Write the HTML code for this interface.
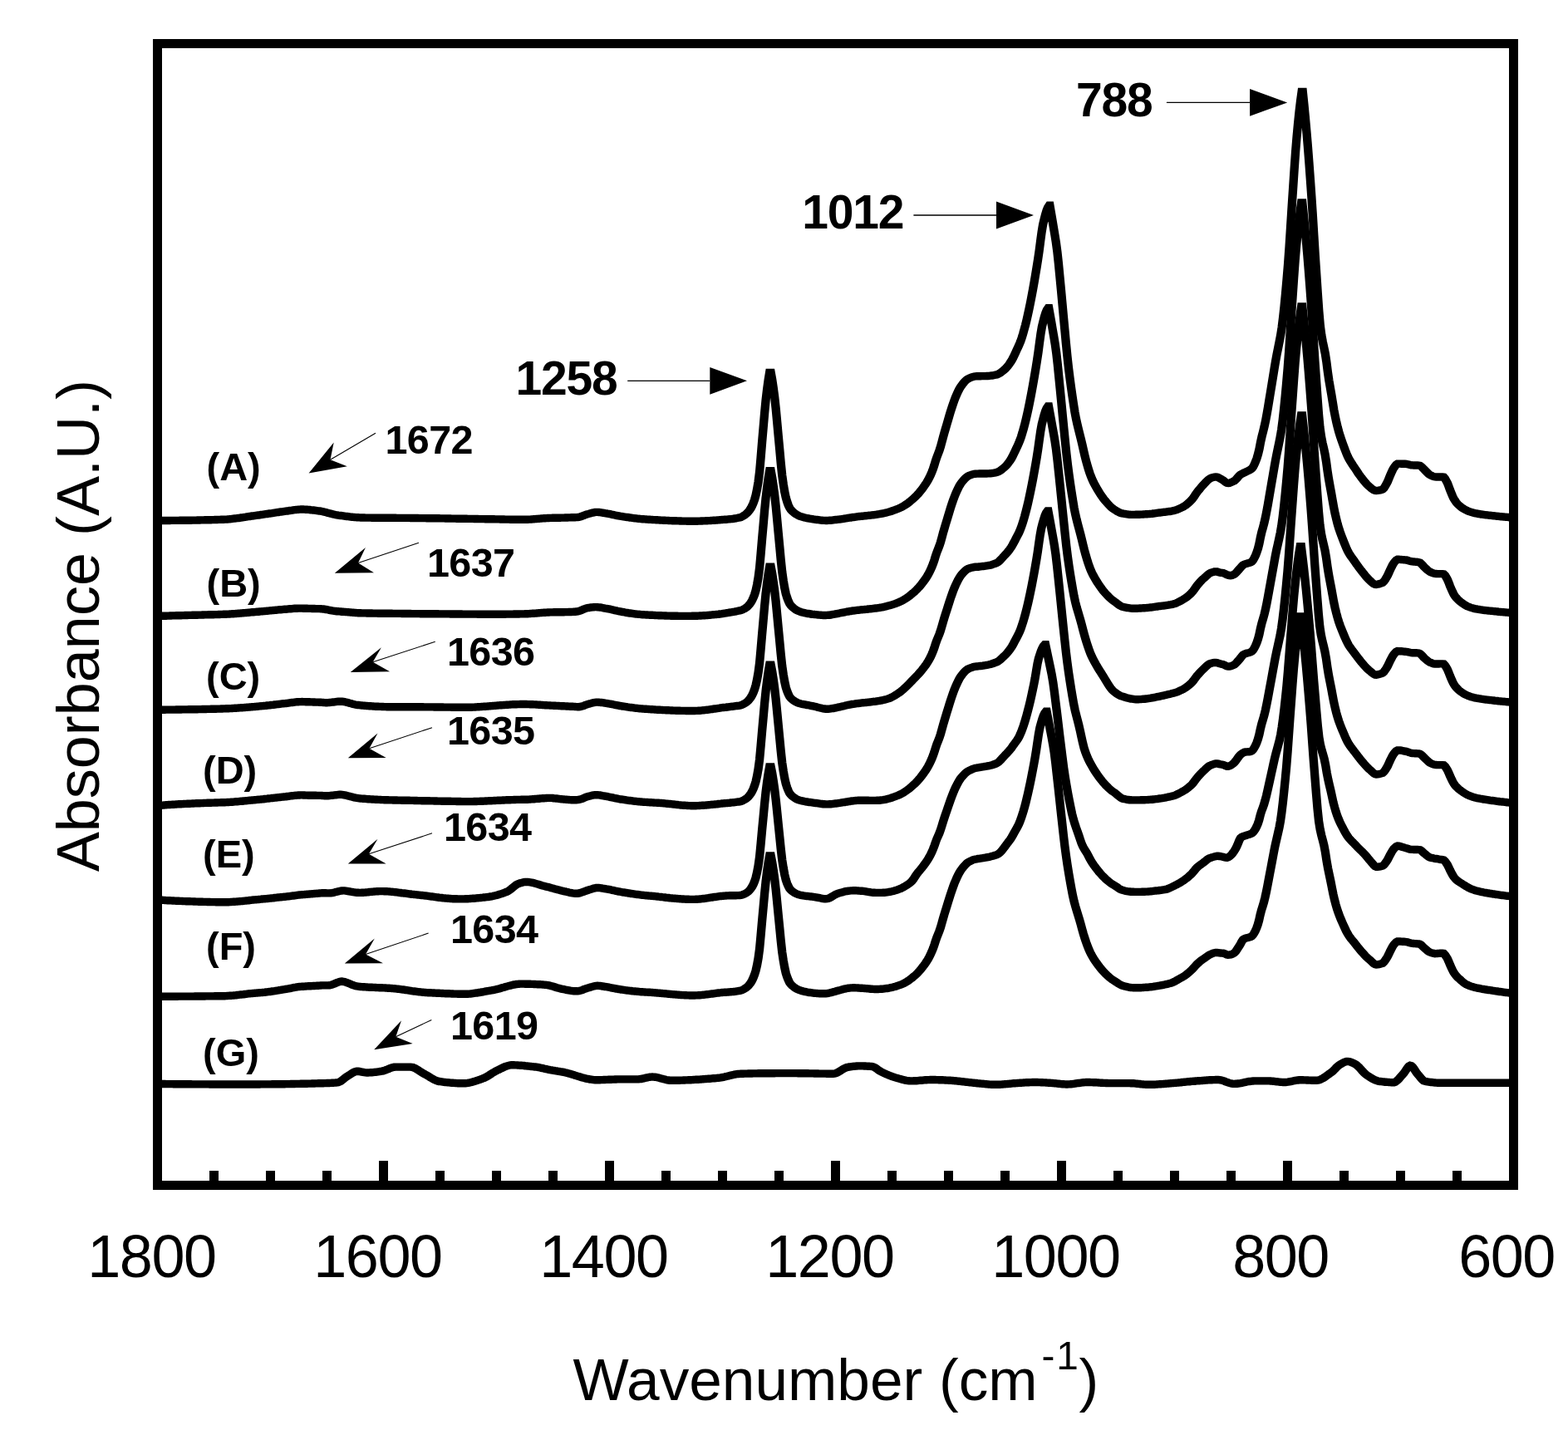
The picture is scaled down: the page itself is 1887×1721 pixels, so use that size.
<!DOCTYPE html>
<html><head><meta charset="utf-8"><title>FTIR spectra</title>
<style>
html,body{margin:0;padding:0;background:#fff;}
body{width:1887px;height:1721px;overflow:hidden;}
svg{display:block;}
text{font-family:"Liberation Sans",Arial,Helvetica,sans-serif;fill:#000;}
.b{font-weight:bold;}
</style></head><body>
<svg width="1887" height="1721" viewBox="0 0 1887 1721">
<rect x="0" y="0" width="1887" height="1721" fill="#fff"/>
<g transform="scale(1.1,1)" fill="none" stroke="#000" stroke-width="9.4" stroke-linejoin="miter" stroke-miterlimit="2" stroke-linecap="butt">
<path d="M172.27,626.5 L173.64,626.5 L175.00,626.5 L176.36,626.5 L177.73,626.5 L179.09,626.5 L180.46,626.5 L181.82,626.5 L183.18,626.5 L184.55,626.5 L185.91,626.5 L187.27,626.4 L188.64,626.4 L190.00,626.4 L191.37,626.4 L192.73,626.4 L194.09,626.4 L195.46,626.4 L196.82,626.3 L198.19,626.3 L199.55,626.3 L200.91,626.3 L202.28,626.3 L203.64,626.3 L205.00,626.2 L206.37,626.2 L207.73,626.2 L209.10,626.2 L210.46,626.1 L211.82,626.1 L213.19,626.1 L214.55,626.1 L215.92,626.0 L217.28,626.0 L218.64,626.0 L220.01,625.9 L221.37,625.9 L222.73,625.9 L224.10,625.8 L225.46,625.8 L226.83,625.8 L228.19,625.7 L229.55,625.7 L230.92,625.7 L232.28,625.6 L233.64,625.6 L235.01,625.5 L236.37,625.5 L237.74,625.5 L239.10,625.4 L240.46,625.4 L241.83,625.3 L243.19,625.3 L244.56,625.2 L245.92,625.1 L247.28,625.1 L248.65,625.0 L250.01,624.8 L251.37,624.7 L252.74,624.6 L254.10,624.4 L255.47,624.2 L256.83,624.0 L258.19,623.9 L259.56,623.7 L260.92,623.5 L262.28,623.3 L263.65,623.0 L265.01,622.8 L266.38,622.6 L267.74,622.4 L269.10,622.2 L270.47,621.9 L271.83,621.7 L273.20,621.5 L274.56,621.2 L275.92,621.0 L277.29,620.8 L278.65,620.6 L280.01,620.4 L281.38,620.2 L282.74,620.0 L284.11,619.8 L285.47,619.5 L286.83,619.3 L288.20,619.1 L289.56,618.9 L290.93,618.7 L292.29,618.5 L293.65,618.2 L295.02,618.0 L296.38,617.8 L297.74,617.6 L299.11,617.3 L300.47,617.1 L301.84,616.9 L303.20,616.7 L304.56,616.5 L305.93,616.2 L307.29,616.0 L308.65,615.8 L310.02,615.6 L311.38,615.4 L312.75,615.2 L314.11,615.0 L315.47,614.8 L316.84,614.5 L318.20,614.3 L319.57,614.1 L320.93,613.8 L322.29,613.6 L323.66,613.5 L325.02,613.3 L326.38,613.2 L327.75,613.1 L329.11,613.0 L330.48,613.0 L331.84,613.0 L333.20,613.1 L334.57,613.2 L335.93,613.3 L337.30,613.4 L338.66,613.5 L340.02,613.7 L341.39,613.8 L342.75,614.0 L344.11,614.2 L345.48,614.4 L346.84,614.6 L348.21,614.8 L349.57,615.0 L350.93,615.2 L352.30,615.5 L353.66,615.8 L355.02,616.2 L356.39,616.6 L357.75,617.0 L359.12,617.4 L360.48,617.8 L361.84,618.2 L363.21,618.5 L364.57,618.9 L365.94,619.3 L367.30,619.6 L368.66,619.8 L370.03,620.1 L371.39,620.3 L372.75,620.5 L374.12,620.7 L375.48,620.9 L376.85,621.1 L378.21,621.3 L379.57,621.5 L380.94,621.7 L382.30,621.9 L383.67,622.1 L385.03,622.2 L386.39,622.4 L387.76,622.5 L389.12,622.6 L390.48,622.7 L391.85,622.8 L393.21,622.9 L394.58,623.0 L395.94,623.0 L397.30,623.0 L398.67,623.0 L400.03,623.1 L401.39,623.1 L402.76,623.1 L404.12,623.1 L405.49,623.1 L406.85,623.2 L408.21,623.2 L409.58,623.2 L410.94,623.2 L412.31,623.2 L413.67,623.2 L415.03,623.2 L416.40,623.2 L417.76,623.3 L419.12,623.3 L420.49,623.3 L421.85,623.3 L423.22,623.3 L424.58,623.3 L425.94,623.3 L427.31,623.3 L428.67,623.3 L430.03,623.3 L431.40,623.3 L432.76,623.3 L434.13,623.4 L435.49,623.4 L436.85,623.4 L438.22,623.4 L439.58,623.4 L440.95,623.4 L442.31,623.4 L443.67,623.4 L445.04,623.4 L446.40,623.4 L447.76,623.4 L449.13,623.5 L450.49,623.5 L451.86,623.5 L453.22,623.5 L454.58,623.5 L455.95,623.5 L457.31,623.5 L458.68,623.6 L460.04,623.6 L461.40,623.6 L462.77,623.6 L464.13,623.6 L465.49,623.6 L466.86,623.7 L468.22,623.7 L469.59,623.7 L470.95,623.7 L472.31,623.7 L473.68,623.7 L475.04,623.8 L476.40,623.8 L477.77,623.8 L479.13,623.8 L480.50,623.8 L481.86,623.9 L483.22,623.9 L484.59,623.9 L485.95,623.9 L487.32,624.0 L488.68,624.0 L490.04,624.0 L491.41,624.0 L492.77,624.0 L494.13,624.1 L495.50,624.1 L496.86,624.1 L498.23,624.1 L499.59,624.2 L500.95,624.2 L502.32,624.2 L503.68,624.2 L505.05,624.2 L506.41,624.3 L507.77,624.3 L509.14,624.3 L510.50,624.3 L511.86,624.4 L513.23,624.4 L514.59,624.4 L515.96,624.4 L517.32,624.4 L518.68,624.5 L520.05,624.5 L521.41,624.5 L522.77,624.5 L524.14,624.6 L525.50,624.6 L526.87,624.6 L528.23,624.6 L529.59,624.6 L530.96,624.7 L532.32,624.7 L533.69,624.7 L535.05,624.7 L536.41,624.7 L537.78,624.8 L539.14,624.8 L540.50,624.8 L541.87,624.9 L543.23,624.9 L544.60,624.9 L545.96,624.9 L547.32,625.0 L548.69,625.0 L550.05,625.0 L551.42,625.0 L552.78,625.1 L554.14,625.1 L555.51,625.1 L556.87,625.1 L558.23,625.2 L559.60,625.2 L560.96,625.2 L562.33,625.2 L563.69,625.2 L565.05,625.3 L566.42,625.3 L567.78,625.3 L569.14,625.3 L570.51,625.3 L571.87,625.3 L573.24,625.3 L574.60,625.3 L575.96,625.3 L577.33,625.2 L578.69,625.1 L580.06,625.1 L581.42,625.0 L582.78,624.9 L584.15,624.7 L585.51,624.6 L586.87,624.5 L588.24,624.4 L589.60,624.3 L590.97,624.1 L592.33,624.0 L593.69,623.9 L595.06,623.8 L596.42,623.7 L597.79,623.6 L599.15,623.5 L600.51,623.5 L601.88,623.4 L603.24,623.4 L604.60,623.3 L605.97,623.3 L607.33,623.3 L608.70,623.2 L610.06,623.2 L611.42,623.2 L612.79,623.2 L614.15,623.1 L615.51,623.1 L616.88,623.1 L618.24,623.0 L619.61,623.0 L620.97,623.0 L622.33,622.9 L623.70,622.9 L625.06,622.8 L626.43,622.8 L627.79,622.7 L629.15,622.7 L630.52,622.6 L631.88,622.5 L633.24,622.3 L634.61,622.0 L635.97,621.5 L637.34,621.0 L638.70,620.4 L640.06,619.8 L641.43,619.2 L642.79,618.8 L644.15,618.4 L645.52,617.9 L646.88,617.5 L648.25,617.1 L649.61,616.8 L650.97,616.5 L652.34,616.4 L653.70,616.4 L655.07,616.5 L656.43,616.7 L657.79,616.9 L659.16,617.1 L660.52,617.4 L661.88,617.7 L663.25,617.9 L664.61,618.2 L665.98,618.4 L667.34,618.7 L668.70,619.0 L670.07,619.4 L671.43,619.7 L672.80,620.0 L674.16,620.3 L675.52,620.6 L676.89,620.9 L678.25,621.2 L679.61,621.4 L680.98,621.6 L682.34,621.9 L683.71,622.1 L685.07,622.3 L686.43,622.5 L687.80,622.7 L689.16,623.0 L690.52,623.2 L691.89,623.4 L693.25,623.6 L694.62,623.8 L695.98,623.9 L697.34,624.1 L698.71,624.3 L700.07,624.4 L701.44,624.6 L702.80,624.7 L704.16,624.8 L705.53,624.9 L706.89,625.0 L708.25,625.1 L709.62,625.2 L710.98,625.3 L712.35,625.4 L713.71,625.5 L715.07,625.6 L716.44,625.6 L717.80,625.7 L719.17,625.8 L720.53,625.9 L721.89,626.0 L723.26,626.1 L724.62,626.1 L725.98,626.2 L727.35,626.3 L728.71,626.4 L730.08,626.4 L731.44,626.5 L732.80,626.6 L734.17,626.6 L735.53,626.7 L736.89,626.7 L738.26,626.8 L739.62,626.8 L740.99,626.9 L742.35,626.9 L743.71,627.0 L745.08,627.0 L746.44,627.1 L747.81,627.1 L749.17,627.1 L750.53,627.1 L751.90,627.2 L753.26,627.2 L754.62,627.2 L755.99,627.2 L757.35,627.2 L758.72,627.2 L760.08,627.2 L761.44,627.2 L762.81,627.2 L764.17,627.1 L765.54,627.1 L766.90,627.0 L768.26,627.0 L769.63,626.9 L770.99,626.9 L772.35,626.8 L773.72,626.7 L775.08,626.6 L776.45,626.6 L777.81,626.5 L779.17,626.4 L780.54,626.3 L781.90,626.2 L783.26,626.1 L784.63,626.0 L785.99,625.9 L787.36,625.8 L788.72,625.7 L790.08,625.5 L791.45,625.4 L792.81,625.3 L794.18,625.2 L795.54,625.1 L796.90,624.9 L798.27,624.8 L799.63,624.6 L800.99,624.5 L802.36,624.3 L803.72,624.0 L805.09,623.8 L806.45,623.5 L807.81,623.2 L809.18,622.9 L810.54,622.5 L811.91,621.8 L813.27,620.9 L814.63,619.9 L816.00,618.8 L817.36,617.5 L818.72,615.9 L820.09,614.0 L821.45,611.7 L822.82,608.8 L824.18,605.4 L825.54,601.2 L826.91,595.8 L828.27,588.7 L829.63,579.9 L831.00,567.9 L832.36,550.7 L833.73,532.2 L835.09,514.9 L836.45,497.3 L837.82,481.5 L839.18,468.8 L840.55,457.6 L841.91,448.5 L843.36,448.5 L844.73,456.6 L846.09,466.6 L847.46,478.0 L848.82,491.8 L850.19,508.1 L851.56,524.6 L852.92,540.7 L854.29,557.4 L855.65,572.0 L857.02,582.7 L858.38,591.7 L859.75,598.8 L861.11,603.8 L862.48,608.0 L863.84,611.2 L865.21,613.4 L866.57,615.0 L867.94,616.4 L869.30,617.6 L870.67,618.7 L872.03,619.6 L873.40,620.4 L874.76,621.1 L876.13,621.6 L877.50,622.1 L878.86,622.5 L880.23,622.9 L881.59,623.3 L882.96,623.6 L884.32,623.9 L885.69,624.2 L887.05,624.4 L888.42,624.6 L889.78,624.9 L891.15,625.1 L892.51,625.3 L893.88,625.5 L895.24,625.7 L896.61,625.9 L897.97,626.1 L899.34,626.2 L900.70,626.4 L902.07,626.4 L903.44,626.5 L904.80,626.5 L906.17,626.4 L907.53,626.3 L908.90,626.2 L910.26,626.1 L911.63,625.9 L912.99,625.7 L914.36,625.5 L915.72,625.3 L917.09,625.1 L918.45,625.0 L919.82,624.8 L921.18,624.6 L922.55,624.4 L923.91,624.1 L925.28,623.9 L926.64,623.7 L928.01,623.4 L929.38,623.2 L930.74,623.0 L932.11,622.7 L933.47,622.5 L934.84,622.3 L936.20,622.1 L937.57,621.9 L938.93,621.7 L940.30,621.5 L941.66,621.4 L943.03,621.2 L944.39,621.1 L945.76,620.9 L947.12,620.7 L948.49,620.6 L949.85,620.4 L951.22,620.3 L952.58,620.1 L953.95,619.9 L955.32,619.8 L956.68,619.6 L958.05,619.4 L959.41,619.2 L960.78,618.9 L962.14,618.7 L963.51,618.4 L964.87,618.1 L966.24,617.8 L967.60,617.5 L968.97,617.2 L970.33,616.8 L971.70,616.4 L973.06,615.9 L974.43,615.5 L975.79,615.0 L977.16,614.5 L978.53,613.9 L979.89,613.4 L981.26,612.8 L982.62,612.2 L983.99,611.6 L985.35,610.9 L986.72,610.1 L988.08,609.3 L989.45,608.4 L990.81,607.4 L992.18,606.4 L993.54,605.3 L994.91,604.1 L996.27,602.9 L997.64,601.6 L999.00,600.3 L1000.37,599.0 L1001.73,597.6 L1003.10,596.0 L1004.47,594.4 L1005.83,592.7 L1007.20,590.8 L1008.56,588.9 L1009.93,586.9 L1011.29,584.8 L1012.66,582.6 L1014.02,580.3 L1015.39,577.7 L1016.75,574.8 L1018.12,571.7 L1019.48,568.1 L1020.85,564.2 L1022.21,559.7 L1023.58,554.6 L1024.94,550.1 L1026.31,546.2 L1027.67,542.2 L1029.04,537.6 L1030.41,532.0 L1031.77,526.3 L1033.14,520.9 L1034.50,515.7 L1035.87,510.6 L1037.23,505.5 L1038.60,500.3 L1039.96,495.3 L1041.33,490.6 L1042.69,486.1 L1044.06,481.9 L1045.42,478.0 L1046.79,474.5 L1048.15,471.2 L1049.52,468.2 L1050.88,465.7 L1052.25,463.6 L1053.61,461.6 L1054.98,459.8 L1056.35,458.2 L1057.71,456.9 L1059.08,455.9 L1060.44,455.1 L1061.81,454.5 L1063.17,453.9 L1064.54,453.5 L1065.90,453.1 L1067.27,452.9 L1068.63,452.8 L1070.00,452.7 L1071.36,452.7 L1072.73,452.7 L1074.09,452.6 L1075.46,452.6 L1076.82,452.6 L1078.19,452.6 L1079.55,452.5 L1080.92,452.5 L1082.29,452.4 L1083.65,452.2 L1085.02,452.0 L1086.38,451.8 L1087.75,451.5 L1089.11,451.2 L1090.48,450.9 L1091.84,450.3 L1093.21,449.5 L1094.57,448.6 L1095.94,447.5 L1097.30,446.3 L1098.67,445.0 L1100.03,443.7 L1101.40,442.1 L1102.76,440.3 L1104.13,438.3 L1105.49,436.0 L1106.86,433.7 L1108.23,430.9 L1109.59,427.8 L1110.96,424.6 L1112.32,421.3 L1113.69,418.1 L1115.05,414.8 L1116.42,411.1 L1117.78,406.8 L1119.15,402.0 L1120.51,396.7 L1121.88,391.1 L1123.24,384.9 L1124.61,378.3 L1125.97,371.3 L1127.34,364.0 L1128.70,356.2 L1130.07,348.2 L1131.43,339.8 L1132.80,330.9 L1134.17,321.8 L1135.53,312.3 L1136.90,302.1 L1138.26,290.5 L1139.63,279.3 L1140.99,270.4 L1142.36,264.1 L1143.72,258.2 L1145.09,253.2 L1146.45,249.5 L1147.82,247.3 L1148.55,247.3 L1149.91,255.9 L1151.27,264.7 L1152.64,273.7 L1154.00,282.6 L1155.37,292.1 L1156.73,303.3 L1158.10,317.2 L1159.46,332.9 L1160.83,348.7 L1162.19,364.8 L1163.56,381.3 L1164.92,397.3 L1166.28,413.3 L1167.65,428.6 L1169.01,442.2 L1170.38,454.3 L1171.74,465.5 L1173.11,476.1 L1174.47,486.1 L1175.84,495.7 L1177.20,503.7 L1178.57,510.5 L1179.93,516.7 L1181.29,522.7 L1182.66,528.7 L1184.02,535.1 L1185.39,541.8 L1186.75,548.3 L1188.12,554.2 L1189.48,559.6 L1190.85,564.7 L1192.21,569.4 L1193.58,573.5 L1194.94,577.0 L1196.30,580.3 L1197.67,583.2 L1199.03,585.9 L1200.40,588.6 L1201.76,591.1 L1203.13,593.5 L1204.49,595.8 L1205.86,598.0 L1207.22,600.0 L1208.59,601.9 L1209.95,603.7 L1211.31,605.4 L1212.68,607.1 L1214.04,608.7 L1215.41,610.1 L1216.77,611.4 L1218.14,612.5 L1219.50,613.5 L1220.87,614.5 L1222.23,615.4 L1223.59,616.2 L1224.96,616.9 L1226.32,617.5 L1227.69,617.9 L1229.05,618.2 L1230.42,618.4 L1231.78,618.7 L1233.15,618.9 L1234.51,619.1 L1235.88,619.3 L1237.24,619.4 L1238.60,619.4 L1239.97,619.4 L1241.33,619.4 L1242.70,619.3 L1244.06,619.3 L1245.43,619.3 L1246.79,619.2 L1248.16,619.1 L1249.52,619.1 L1250.89,619.0 L1252.25,618.9 L1253.61,618.8 L1254.98,618.7 L1256.34,618.6 L1257.71,618.5 L1259.07,618.3 L1260.44,618.2 L1261.80,618.0 L1263.17,617.8 L1264.53,617.6 L1265.90,617.4 L1267.26,617.2 L1268.62,617.0 L1269.99,616.8 L1271.35,616.6 L1272.72,616.4 L1274.08,616.3 L1275.45,616.1 L1276.81,615.9 L1278.18,615.7 L1279.54,615.5 L1280.91,615.3 L1282.27,615.0 L1283.63,614.7 L1285.00,614.3 L1286.36,613.8 L1287.73,613.3 L1289.09,612.7 L1290.46,612.1 L1291.82,611.4 L1293.19,610.7 L1294.55,609.9 L1295.92,609.0 L1297.28,608.0 L1298.64,606.8 L1300.01,605.5 L1301.37,604.2 L1302.74,602.7 L1304.10,601.1 L1305.47,599.1 L1306.83,597.0 L1308.20,594.7 L1309.56,592.5 L1310.93,590.6 L1312.29,588.8 L1313.65,587.0 L1315.02,585.2 L1316.38,583.6 L1317.75,582.0 L1319.11,580.4 L1320.48,578.8 L1321.84,577.4 L1323.21,576.3 L1324.57,575.5 L1325.94,574.9 L1327.30,574.4 L1328.66,574.1 L1330.03,573.9 L1331.39,574.1 L1332.76,574.6 L1334.12,575.4 L1335.49,576.3 L1336.85,577.2 L1338.22,578.1 L1339.58,579.3 L1340.95,580.5 L1342.31,581.3 L1343.67,581.5 L1345.04,581.3 L1346.40,580.8 L1347.77,580.1 L1349.13,579.4 L1350.50,578.6 L1351.86,577.3 L1353.23,575.7 L1354.59,573.9 L1355.95,572.3 L1357.32,571.1 L1358.68,570.2 L1360.05,569.5 L1361.41,568.8 L1362.78,568.1 L1364.14,567.3 L1365.51,566.6 L1366.87,565.9 L1368.24,565.0 L1369.60,563.8 L1370.96,561.8 L1372.33,558.9 L1373.69,555.4 L1375.06,551.4 L1376.42,546.3 L1377.79,540.0 L1379.15,532.0 L1380.52,525.2 L1381.88,519.5 L1383.25,513.4 L1384.61,506.3 L1385.97,498.4 L1387.34,489.7 L1388.70,480.5 L1390.07,471.4 L1391.43,462.2 L1392.80,453.0 L1394.16,443.8 L1395.53,434.8 L1396.89,426.6 L1398.26,419.2 L1399.62,411.6 L1400.98,403.8 L1402.35,394.3 L1403.71,382.4 L1405.08,368.4 L1406.44,352.8 L1407.81,335.8 L1409.17,317.9 L1410.54,296.8 L1411.90,273.2 L1413.27,249.6 L1414.63,227.1 L1415.99,204.3 L1417.36,182.8 L1418.72,164.5 L1420.09,148.5 L1421.45,134.0 L1422.82,121.2 L1424.18,110.5 L1425.27,110.5 L1426.64,125.0 L1428.00,140.6 L1429.37,157.4 L1430.73,175.2 L1432.10,194.5 L1433.46,214.9 L1434.83,236.3 L1436.19,259.0 L1437.56,283.8 L1438.92,308.3 L1440.28,330.8 L1441.65,353.5 L1443.01,374.8 L1444.38,392.0 L1445.74,403.3 L1447.11,411.4 L1448.47,418.3 L1449.84,425.6 L1451.20,435.3 L1452.57,447.2 L1453.93,457.6 L1455.30,466.4 L1456.66,475.1 L1458.03,484.3 L1459.39,493.5 L1460.76,501.3 L1462.12,508.3 L1463.48,514.5 L1464.85,520.0 L1466.21,524.9 L1467.58,529.4 L1468.94,533.6 L1470.31,537.7 L1471.67,541.8 L1473.04,545.6 L1474.40,549.1 L1475.77,552.1 L1477.13,554.8 L1478.50,557.2 L1479.86,559.5 L1481.23,561.7 L1482.59,563.9 L1483.96,566.2 L1485.32,568.5 L1486.68,570.7 L1488.05,572.8 L1489.41,574.8 L1490.78,576.7 L1492.14,578.6 L1493.51,580.4 L1494.87,582.2 L1496.24,583.7 L1497.60,585.1 L1498.97,586.4 L1500.33,587.7 L1501.70,588.9 L1503.06,589.9 L1504.43,590.4 L1505.79,590.5 L1507.16,590.4 L1508.52,590.2 L1509.88,589.9 L1511.25,589.5 L1512.61,589.0 L1513.98,587.6 L1515.34,585.3 L1516.71,582.6 L1518.07,579.8 L1519.44,576.2 L1520.80,572.4 L1522.17,569.0 L1523.53,565.8 L1524.90,563.0 L1526.26,561.0 L1527.63,559.2 L1528.99,558.2 L1530.36,558.1 L1531.72,558.1 L1533.08,558.2 L1534.45,558.2 L1535.81,558.3 L1537.18,558.3 L1538.54,558.4 L1539.91,558.7 L1541.27,559.1 L1542.64,559.5 L1544.00,559.8 L1545.37,559.9 L1546.73,560.0 L1548.10,560.0 L1549.46,560.0 L1550.83,560.0 L1552.19,560.1 L1553.56,560.4 L1554.92,561.4 L1556.29,562.9 L1557.65,564.5 L1559.01,566.0 L1560.38,567.5 L1561.74,569.0 L1563.11,570.5 L1564.47,571.6 L1565.84,572.3 L1567.20,573.0 L1568.57,573.6 L1569.93,573.9 L1571.30,574.0 L1572.66,574.0 L1574.03,574.0 L1575.39,574.0 L1576.76,574.0 L1578.12,574.0 L1579.49,574.2 L1580.85,575.9 L1582.21,578.5 L1583.58,581.4 L1584.94,585.2 L1586.31,589.4 L1587.67,593.1 L1589.04,596.7 L1590.40,600.0 L1591.77,602.4 L1593.13,604.5 L1594.50,606.3 L1595.86,607.8 L1597.23,609.1 L1598.59,610.3 L1599.96,611.4 L1601.32,612.4 L1602.69,613.2 L1604.05,614.0 L1605.41,614.7 L1606.78,615.3 L1608.14,615.8 L1609.51,616.3 L1610.87,616.8 L1612.24,617.2 L1613.60,617.6 L1614.97,617.9 L1616.33,618.2 L1617.70,618.5 L1619.06,618.7 L1620.43,619.0 L1621.79,619.2 L1623.16,619.4 L1624.52,619.6 L1625.89,619.8 L1627.25,619.9 L1628.61,620.1 L1629.98,620.3 L1631.34,620.4 L1632.71,620.6 L1634.07,620.8 L1635.44,620.9 L1636.80,621.1 L1638.17,621.3 L1639.53,621.4 L1640.90,621.6 L1642.26,621.7 L1643.63,621.9 L1644.99,622.0 L1646.36,622.1 L1647.72,622.3 L1649.09,622.4 L1650.45,622.5 L1651.81,622.7 L1653.18,622.8 L1654.54,622.9 L1655.91,623.0"/>
<path d="M172.27,741.5 L173.64,741.4 L175.00,741.4 L176.36,741.3 L177.73,741.3 L179.09,741.2 L180.46,741.2 L181.82,741.2 L183.18,741.1 L184.55,741.1 L185.91,741.0 L187.27,741.0 L188.64,740.9 L190.00,740.9 L191.37,740.9 L192.73,740.8 L194.09,740.8 L195.46,740.7 L196.82,740.7 L198.19,740.7 L199.55,740.6 L200.91,740.6 L202.28,740.5 L203.64,740.5 L205.00,740.5 L206.37,740.4 L207.73,740.4 L209.10,740.4 L210.46,740.3 L211.82,740.3 L213.19,740.2 L214.55,740.2 L215.92,740.2 L217.28,740.1 L218.64,740.1 L220.01,740.1 L221.37,740.0 L222.73,740.0 L224.10,739.9 L225.46,739.9 L226.83,739.9 L228.19,739.8 L229.55,739.8 L230.92,739.8 L232.28,739.7 L233.64,739.7 L235.01,739.6 L236.37,739.6 L237.74,739.6 L239.10,739.5 L240.46,739.5 L241.83,739.4 L243.19,739.4 L244.56,739.3 L245.92,739.3 L247.28,739.2 L248.65,739.1 L250.01,739.1 L251.37,739.0 L252.74,738.9 L254.10,738.8 L255.47,738.7 L256.83,738.6 L258.19,738.5 L259.56,738.4 L260.92,738.2 L262.28,738.1 L263.65,738.0 L265.01,737.9 L266.38,737.7 L267.74,737.6 L269.10,737.5 L270.47,737.3 L271.83,737.2 L273.20,737.1 L274.56,736.9 L275.92,736.8 L277.29,736.7 L278.65,736.6 L280.01,736.4 L281.38,736.3 L282.74,736.2 L284.11,736.0 L285.47,735.9 L286.83,735.8 L288.20,735.6 L289.56,735.5 L290.93,735.4 L292.29,735.2 L293.65,735.1 L295.02,734.9 L296.38,734.8 L297.74,734.6 L299.11,734.5 L300.47,734.4 L301.84,734.2 L303.20,734.1 L304.56,733.9 L305.93,733.8 L307.29,733.7 L308.65,733.6 L310.02,733.4 L311.38,733.3 L312.75,733.2 L314.11,733.1 L315.47,732.9 L316.84,732.8 L318.20,732.7 L319.57,732.6 L320.93,732.4 L322.29,732.3 L323.66,732.2 L325.02,732.2 L326.38,732.1 L327.75,732.1 L329.11,732.1 L330.48,732.1 L331.84,732.2 L333.20,732.2 L334.57,732.3 L335.93,732.3 L337.30,732.4 L338.66,732.4 L340.02,732.4 L341.39,732.5 L342.75,732.5 L344.11,732.5 L345.48,732.6 L346.84,732.6 L348.21,732.6 L349.57,732.6 L350.93,732.7 L352.30,732.8 L353.66,733.0 L355.02,733.2 L356.39,733.5 L357.75,733.7 L359.12,734.0 L360.48,734.3 L361.84,734.6 L363.21,734.9 L364.57,735.1 L365.94,735.3 L367.30,735.5 L368.66,735.7 L370.03,735.8 L371.39,735.9 L372.75,736.0 L374.12,736.2 L375.48,736.3 L376.85,736.4 L378.21,736.5 L379.57,736.6 L380.94,736.7 L382.30,736.9 L383.67,737.0 L385.03,737.1 L386.39,737.2 L387.76,737.4 L389.12,737.5 L390.48,737.6 L391.85,737.7 L393.21,737.8 L394.58,737.8 L395.94,737.9 L397.30,737.9 L398.67,737.9 L400.03,737.9 L401.39,738.0 L402.76,738.0 L404.12,738.0 L405.49,738.0 L406.85,738.0 L408.21,738.1 L409.58,738.1 L410.94,738.1 L412.31,738.1 L413.67,738.2 L415.03,738.2 L416.40,738.2 L417.76,738.2 L419.12,738.2 L420.49,738.2 L421.85,738.3 L423.22,738.3 L424.58,738.3 L425.94,738.3 L427.31,738.3 L428.67,738.3 L430.03,738.4 L431.40,738.4 L432.76,738.4 L434.13,738.4 L435.49,738.4 L436.85,738.4 L438.22,738.4 L439.58,738.5 L440.95,738.5 L442.31,738.5 L443.67,738.5 L445.04,738.5 L446.40,738.5 L447.76,738.5 L449.13,738.5 L450.49,738.6 L451.86,738.6 L453.22,738.6 L454.58,738.6 L455.95,738.6 L457.31,738.6 L458.68,738.6 L460.04,738.7 L461.40,738.7 L462.77,738.7 L464.13,738.7 L465.49,738.7 L466.86,738.7 L468.22,738.7 L469.59,738.8 L470.95,738.8 L472.31,738.8 L473.68,738.8 L475.04,738.8 L476.40,738.8 L477.77,738.8 L479.13,738.8 L480.50,738.9 L481.86,738.9 L483.22,738.9 L484.59,738.9 L485.95,738.9 L487.32,738.9 L488.68,738.9 L490.04,738.9 L491.41,738.9 L492.77,739.0 L494.13,739.0 L495.50,739.0 L496.86,739.0 L498.23,739.0 L499.59,739.0 L500.95,739.0 L502.32,739.0 L503.68,739.0 L505.05,739.0 L506.41,739.1 L507.77,739.1 L509.14,739.1 L510.50,739.1 L511.86,739.1 L513.23,739.1 L514.59,739.1 L515.96,739.1 L517.32,739.1 L518.68,739.1 L520.05,739.1 L521.41,739.1 L522.77,739.2 L524.14,739.2 L525.50,739.2 L526.87,739.2 L528.23,739.2 L529.59,739.2 L530.96,739.2 L532.32,739.2 L533.69,739.2 L535.05,739.2 L536.41,739.2 L537.78,739.2 L539.14,739.2 L540.50,739.2 L541.87,739.2 L543.23,739.2 L544.60,739.2 L545.96,739.2 L547.32,739.2 L548.69,739.2 L550.05,739.2 L551.42,739.2 L552.78,739.2 L554.14,739.1 L555.51,739.1 L556.87,739.1 L558.23,739.1 L559.60,739.1 L560.96,739.1 L562.33,739.0 L563.69,739.0 L565.05,739.0 L566.42,739.0 L567.78,739.0 L569.14,738.9 L570.51,738.9 L571.87,738.9 L573.24,738.9 L574.60,738.8 L575.96,738.8 L577.33,738.7 L578.69,738.6 L580.06,738.5 L581.42,738.4 L582.78,738.3 L584.15,738.2 L585.51,738.1 L586.87,738.0 L588.24,737.8 L589.60,737.7 L590.97,737.6 L592.33,737.5 L593.69,737.4 L595.06,737.3 L596.42,737.2 L597.79,737.1 L599.15,737.0 L600.51,737.0 L601.88,736.9 L603.24,736.9 L604.60,736.9 L605.97,736.8 L607.33,736.8 L608.70,736.8 L610.06,736.8 L611.42,736.7 L612.79,736.7 L614.15,736.7 L615.51,736.7 L616.88,736.7 L618.24,736.6 L619.61,736.6 L620.97,736.6 L622.33,736.5 L623.70,736.5 L625.06,736.5 L626.43,736.4 L627.79,736.3 L629.15,736.2 L630.52,736.0 L631.88,735.8 L633.24,735.4 L634.61,735.0 L635.97,734.4 L637.34,733.7 L638.70,733.1 L640.06,732.5 L641.43,732.0 L642.79,731.7 L644.15,731.5 L645.52,731.2 L646.88,731.0 L648.25,730.9 L649.61,730.7 L650.97,730.6 L652.34,730.6 L653.70,730.7 L655.07,730.8 L656.43,731.0 L657.79,731.2 L659.16,731.5 L660.52,731.8 L661.88,732.1 L663.25,732.3 L664.61,732.6 L665.98,732.9 L667.34,733.2 L668.70,733.5 L670.07,733.9 L671.43,734.2 L672.80,734.6 L674.16,734.9 L675.52,735.3 L676.89,735.6 L678.25,735.9 L679.61,736.2 L680.98,736.5 L682.34,736.7 L683.71,737.0 L685.07,737.3 L686.43,737.5 L687.80,737.8 L689.16,738.0 L690.52,738.2 L691.89,738.4 L693.25,738.6 L694.62,738.8 L695.98,739.0 L697.34,739.1 L698.71,739.3 L700.07,739.4 L701.44,739.6 L702.80,739.7 L704.16,739.8 L705.53,739.9 L706.89,740.0 L708.25,740.0 L709.62,740.1 L710.98,740.2 L712.35,740.3 L713.71,740.3 L715.07,740.4 L716.44,740.5 L717.80,740.6 L719.17,740.6 L720.53,740.7 L721.89,740.7 L723.26,740.8 L724.62,740.9 L725.98,740.9 L727.35,741.0 L728.71,741.0 L730.08,741.1 L731.44,741.1 L732.80,741.1 L734.17,741.2 L735.53,741.2 L736.89,741.3 L738.26,741.3 L739.62,741.3 L740.99,741.3 L742.35,741.4 L743.71,741.4 L745.08,741.4 L746.44,741.4 L747.81,741.4 L749.17,741.4 L750.53,741.4 L751.90,741.4 L753.26,741.4 L754.62,741.4 L755.99,741.4 L757.35,741.3 L758.72,741.3 L760.08,741.3 L761.44,741.2 L762.81,741.2 L764.17,741.1 L765.54,741.0 L766.90,741.0 L768.26,740.9 L769.63,740.8 L770.99,740.7 L772.35,740.6 L773.72,740.5 L775.08,740.3 L776.45,740.2 L777.81,740.1 L779.17,739.9 L780.54,739.8 L781.90,739.6 L783.26,739.5 L784.63,739.3 L785.99,739.2 L787.36,739.0 L788.72,738.8 L790.08,738.6 L791.45,738.3 L792.81,738.1 L794.18,737.9 L795.54,737.6 L796.90,737.4 L798.27,737.1 L799.63,736.8 L800.99,736.6 L802.36,736.3 L803.72,736.1 L805.09,735.8 L806.45,735.5 L807.81,735.2 L809.18,735.0 L810.54,734.6 L811.91,734.1 L813.27,733.3 L814.63,732.5 L816.00,731.5 L817.36,730.4 L818.72,729.0 L820.09,727.3 L821.45,725.2 L822.82,722.6 L824.18,719.4 L825.54,715.5 L826.91,710.4 L828.27,703.6 L829.63,695.0 L831.00,683.4 L832.36,666.7 L833.73,648.6 L835.09,631.8 L836.45,614.5 L837.82,599.1 L839.18,586.7 L840.55,575.8 L841.91,566.8 L843.36,566.8 L844.73,574.8 L846.09,584.6 L847.46,595.8 L848.82,609.4 L850.19,625.4 L851.56,641.6 L852.92,657.4 L854.29,673.8 L855.65,688.1 L857.02,698.7 L858.38,707.5 L859.75,714.4 L861.11,719.3 L862.48,723.4 L863.84,726.5 L865.21,728.6 L866.57,730.2 L867.94,731.5 L869.30,732.7 L870.67,733.8 L872.03,734.6 L873.40,735.4 L874.76,736.0 L876.13,736.5 L877.50,736.9 L878.86,737.3 L880.23,737.7 L881.59,738.0 L882.96,738.3 L884.32,738.5 L885.69,738.7 L887.05,739.0 L888.42,739.2 L889.78,739.3 L891.15,739.5 L892.51,739.6 L893.88,739.8 L895.24,740.0 L896.61,740.1 L897.97,740.2 L899.34,740.4 L900.70,740.5 L902.07,740.5 L903.44,740.5 L904.80,740.4 L906.17,740.3 L907.53,740.2 L908.90,740.0 L910.26,739.7 L911.63,739.4 L912.99,739.2 L914.36,738.9 L915.72,738.6 L917.09,738.3 L918.45,738.0 L919.82,737.7 L921.18,737.4 L922.55,737.1 L923.91,736.8 L925.28,736.5 L926.64,736.2 L928.01,736.0 L929.38,735.7 L930.74,735.5 L932.11,735.2 L933.47,735.0 L934.84,734.8 L936.20,734.6 L937.57,734.4 L938.93,734.3 L940.30,734.1 L941.66,733.9 L943.03,733.8 L944.39,733.6 L945.76,733.5 L947.12,733.3 L948.49,733.2 L949.85,733.0 L951.22,732.9 L952.58,732.7 L953.95,732.6 L955.32,732.4 L956.68,732.2 L958.05,732.0 L959.41,731.8 L960.78,731.6 L962.14,731.4 L963.51,731.1 L964.87,730.9 L966.24,730.6 L967.60,730.2 L968.97,729.9 L970.33,729.5 L971.70,729.1 L973.06,728.7 L974.43,728.3 L975.79,727.8 L977.16,727.3 L978.53,726.8 L979.89,726.3 L981.26,725.7 L982.62,725.1 L983.99,724.5 L985.35,723.8 L986.72,723.1 L988.08,722.3 L989.45,721.4 L990.81,720.5 L992.18,719.5 L993.54,718.4 L994.91,717.3 L996.27,716.1 L997.64,714.8 L999.00,713.6 L1000.37,712.3 L1001.73,710.9 L1003.10,709.4 L1004.47,707.8 L1005.83,706.2 L1007.20,704.4 L1008.56,702.5 L1009.93,700.5 L1011.29,698.5 L1012.66,696.4 L1014.02,694.1 L1015.39,691.6 L1016.75,688.8 L1018.12,685.7 L1019.48,682.3 L1020.85,678.4 L1022.21,674.1 L1023.58,669.1 L1024.94,664.7 L1026.31,660.9 L1027.67,657.0 L1029.04,652.5 L1030.40,647.1 L1031.77,641.4 L1033.14,636.2 L1034.50,631.1 L1035.87,626.2 L1037.23,621.2 L1038.60,616.2 L1039.96,611.3 L1041.33,606.7 L1042.69,602.3 L1044.06,598.2 L1045.42,594.5 L1046.79,591.1 L1048.15,587.9 L1049.52,584.9 L1050.88,582.4 L1052.25,580.4 L1053.61,578.5 L1054.97,576.8 L1056.34,575.3 L1057.70,574.0 L1059.07,573.0 L1060.43,572.3 L1061.79,571.7 L1063.16,571.1 L1064.52,570.7 L1065.88,570.4 L1067.25,570.2 L1068.61,570.1 L1069.97,570.1 L1071.33,570.0 L1072.69,570.0 L1074.05,570.0 L1075.41,570.0 L1076.77,570.0 L1078.13,570.0 L1079.49,570.0 L1080.85,569.9 L1082.20,569.9 L1083.56,569.7 L1084.92,569.6 L1086.27,569.3 L1087.62,569.1 L1088.98,568.8 L1090.33,568.5 L1091.68,568.0 L1093.03,567.2 L1094.38,566.3 L1095.72,565.3 L1097.07,564.1 L1098.42,562.9 L1099.76,561.6 L1101.10,560.1 L1102.45,558.3 L1103.79,556.3 L1105.13,554.2 L1106.47,551.9 L1107.81,549.2 L1109.14,546.2 L1110.48,543.1 L1111.82,539.9 L1113.15,536.8 L1114.49,533.6 L1115.82,530.0 L1117.15,525.8 L1118.49,521.1 L1119.82,516.0 L1121.16,510.5 L1122.49,504.5 L1123.83,498.1 L1125.16,491.3 L1126.50,484.1 L1127.83,476.6 L1129.17,468.8 L1130.51,460.6 L1131.85,452.0 L1133.20,443.1 L1134.54,433.9 L1135.89,424.0 L1137.23,412.7 L1138.58,401.8 L1139.93,393.2 L1141.29,387.0 L1142.64,381.3 L1144.00,376.5 L1145.36,372.8 L1146.73,370.7 L1147.45,370.7 L1148.82,379.0 L1150.19,387.6 L1151.56,396.4 L1152.93,405.0 L1154.31,414.2 L1155.69,425.1 L1157.07,438.6 L1158.45,453.8 L1159.83,469.1 L1161.22,484.8 L1162.61,500.8 L1164.00,516.3 L1165.39,531.8 L1166.78,546.6 L1168.17,559.8 L1169.57,571.5 L1170.96,582.3 L1172.35,592.5 L1173.75,602.2 L1175.15,611.5 L1176.54,619.1 L1177.94,625.7 L1179.33,631.6 L1180.73,637.3 L1182.12,643.1 L1183.52,649.3 L1184.91,655.7 L1186.30,661.9 L1187.70,667.5 L1189.09,672.7 L1190.48,677.6 L1191.87,682.1 L1193.26,686.0 L1194.64,689.3 L1196.03,692.4 L1197.42,695.2 L1198.80,697.8 L1200.18,700.3 L1201.57,702.6 L1202.95,704.9 L1204.33,707.1 L1205.71,709.2 L1207.08,711.1 L1208.46,712.9 L1209.84,714.6 L1211.21,716.3 L1212.59,717.8 L1213.96,719.3 L1215.33,720.7 L1216.71,721.9 L1218.08,723.0 L1219.45,724.1 L1220.82,725.2 L1222.19,726.4 L1223.56,727.5 L1224.93,728.6 L1226.30,729.4 L1227.66,730.1 L1229.03,730.6 L1230.40,730.9 L1231.77,731.2 L1233.13,731.5 L1234.50,731.7 L1235.86,731.9 L1237.23,732.1 L1238.60,732.2 L1239.96,732.2 L1241.33,732.2 L1242.69,732.2 L1244.06,732.2 L1245.42,732.1 L1246.79,732.0 L1248.15,732.0 L1249.52,731.9 L1250.88,731.8 L1252.25,731.7 L1253.61,731.6 L1254.98,731.5 L1256.34,731.4 L1257.71,731.2 L1259.07,731.0 L1260.44,730.8 L1261.80,730.6 L1263.17,730.4 L1264.53,730.2 L1265.90,730.0 L1267.26,729.7 L1268.62,729.5 L1269.99,729.3 L1271.35,729.1 L1272.72,729.0 L1274.08,728.8 L1275.45,728.6 L1276.81,728.4 L1278.18,728.2 L1279.54,727.9 L1280.91,727.7 L1282.27,727.4 L1283.63,727.0 L1285.00,726.6 L1286.36,726.1 L1287.73,725.4 L1289.09,724.7 L1290.46,723.9 L1291.82,723.1 L1293.19,722.3 L1294.55,721.4 L1295.92,720.5 L1297.28,719.5 L1298.64,718.4 L1300.01,717.1 L1301.37,715.8 L1302.74,714.5 L1304.10,712.9 L1305.47,711.1 L1306.83,709.0 L1308.20,706.9 L1309.56,704.8 L1310.93,703.0 L1312.29,701.3 L1313.65,699.6 L1315.02,698.0 L1316.38,696.6 L1317.75,695.3 L1319.11,693.9 L1320.48,692.5 L1321.84,691.2 L1323.21,690.1 L1324.57,689.4 L1325.93,688.9 L1327.30,688.4 L1328.66,688.0 L1330.03,687.9 L1331.39,688.0 L1332.76,688.5 L1334.12,689.0 L1335.49,689.3 L1336.85,689.4 L1338.21,689.6 L1339.58,690.2 L1340.94,690.9 L1342.31,691.7 L1343.67,692.2 L1345.03,692.5 L1346.40,692.7 L1347.76,692.5 L1349.13,691.8 L1350.49,691.1 L1351.85,689.8 L1353.22,688.2 L1354.58,686.5 L1355.94,684.8 L1357.30,683.1 L1358.67,681.4 L1360.03,680.0 L1361.39,679.1 L1362.75,678.6 L1364.11,678.2 L1365.47,677.8 L1366.84,677.4 L1368.20,676.8 L1369.55,675.9 L1370.91,674.2 L1372.27,671.5 L1373.63,668.4 L1374.99,664.6 L1376.35,660.0 L1377.70,654.1 L1379.06,646.5 L1380.41,640.1 L1381.77,634.8 L1383.12,629.2 L1384.48,622.5 L1385.83,615.0 L1387.18,606.9 L1388.53,598.2 L1389.89,589.5 L1391.24,580.8 L1392.59,572.2 L1393.94,563.5 L1395.29,554.9 L1396.64,547.2 L1397.99,540.2 L1399.34,533.0 L1400.69,525.6 L1402.04,516.6 L1403.39,505.2 L1404.74,491.8 L1406.09,476.9 L1407.44,460.6 L1408.79,443.4 L1410.15,423.2 L1411.50,400.5 L1412.85,377.8 L1414.21,356.2 L1415.57,334.3 L1416.92,313.6 L1418.28,296.0 L1419.64,280.6 L1421.00,266.6 L1422.36,254.3 L1423.73,244.0 L1424.82,244.0 L1426.18,257.9 L1427.55,273.0 L1428.92,289.2 L1430.29,306.3 L1431.66,324.8 L1433.03,344.5 L1434.40,365.0 L1435.78,386.9 L1437.15,410.6 L1438.53,434.1 L1439.91,455.7 L1441.28,477.6 L1442.66,498.0 L1444.04,514.4 L1445.42,525.2 L1446.80,532.9 L1448.18,539.3 L1449.56,546.3 L1450.93,555.5 L1452.31,566.8 L1453.69,576.6 L1455.07,585.0 L1456.45,593.2 L1457.83,602.0 L1459.21,610.6 L1460.58,618.1 L1461.96,624.6 L1463.34,630.5 L1464.71,635.6 L1466.09,640.2 L1467.47,644.4 L1468.84,648.3 L1470.21,652.1 L1471.59,655.9 L1472.96,659.5 L1474.33,662.7 L1475.70,665.6 L1477.07,668.0 L1478.45,670.2 L1479.82,672.3 L1481.19,674.4 L1482.55,676.5 L1483.92,678.7 L1485.29,680.8 L1486.66,682.9 L1488.03,684.9 L1489.40,686.8 L1490.76,688.7 L1492.13,690.6 L1493.50,692.5 L1494.86,694.3 L1496.23,696.0 L1497.59,697.5 L1498.96,698.9 L1500.33,700.3 L1501.69,701.6 L1503.06,702.7 L1504.42,703.3 L1505.79,703.4 L1507.15,703.2 L1508.52,702.9 L1509.88,702.4 L1511.25,701.9 L1512.61,701.3 L1513.98,699.9 L1515.34,697.8 L1516.71,695.3 L1518.07,692.7 L1519.44,689.4 L1520.80,686.0 L1522.17,682.9 L1523.53,680.0 L1524.90,677.5 L1526.26,675.7 L1527.63,674.1 L1528.99,673.2 L1530.36,673.3 L1531.72,673.4 L1533.08,673.5 L1534.45,673.6 L1535.81,673.7 L1537.18,673.8 L1538.54,674.0 L1539.91,674.3 L1541.27,674.8 L1542.64,675.3 L1544.00,675.7 L1545.37,675.9 L1546.73,676.0 L1548.10,676.1 L1549.46,676.3 L1550.83,676.4 L1552.19,676.7 L1553.56,677.2 L1554.92,678.5 L1556.29,680.1 L1557.65,681.8 L1559.01,683.2 L1560.38,684.6 L1561.74,686.0 L1563.11,687.2 L1564.47,688.2 L1565.84,688.9 L1567.20,689.5 L1568.57,690.1 L1569.93,690.4 L1571.30,690.5 L1572.66,690.6 L1574.03,690.6 L1575.39,690.6 L1576.76,690.6 L1578.12,690.6 L1579.49,690.8 L1580.85,692.3 L1582.21,694.8 L1583.58,697.5 L1584.94,701.1 L1586.31,705.1 L1587.67,708.6 L1589.04,712.0 L1590.40,715.1 L1591.77,717.4 L1593.13,719.3 L1594.50,721.0 L1595.86,722.4 L1597.23,723.7 L1598.59,724.9 L1599.96,726.0 L1601.32,727.1 L1602.69,728.1 L1604.05,728.9 L1605.41,729.7 L1606.78,730.3 L1608.14,730.9 L1609.51,731.4 L1610.87,731.8 L1612.24,732.2 L1613.60,732.6 L1614.97,732.9 L1616.33,733.2 L1617.70,733.4 L1619.06,733.7 L1620.43,733.9 L1621.79,734.1 L1623.16,734.3 L1624.52,734.5 L1625.89,734.6 L1627.25,734.8 L1628.61,735.0 L1629.98,735.1 L1631.34,735.3 L1632.71,735.4 L1634.07,735.6 L1635.44,735.7 L1636.80,735.9 L1638.17,736.0 L1639.53,736.2 L1640.90,736.3 L1642.26,736.5 L1643.63,736.6 L1644.99,736.7 L1646.36,736.8 L1647.72,737.0 L1649.09,737.1 L1650.45,737.2 L1651.81,737.3 L1653.18,737.4 L1654.54,737.5 L1655.91,737.6"/>
<path d="M172.27,854.2 L173.64,854.2 L175.00,854.2 L176.36,854.2 L177.73,854.2 L179.09,854.2 L180.46,854.2 L181.82,854.1 L183.18,854.1 L184.55,854.1 L185.91,854.1 L187.27,854.1 L188.64,854.1 L190.00,854.1 L191.37,854.1 L192.73,854.0 L194.09,854.0 L195.46,854.0 L196.82,854.0 L198.19,854.0 L199.55,853.9 L200.91,853.9 L202.28,853.9 L203.64,853.9 L205.00,853.9 L206.37,853.8 L207.73,853.8 L209.10,853.8 L210.46,853.8 L211.82,853.7 L213.19,853.7 L214.55,853.7 L215.92,853.7 L217.28,853.6 L218.64,853.6 L220.01,853.6 L221.37,853.5 L222.73,853.5 L224.10,853.5 L225.46,853.5 L226.83,853.4 L228.19,853.4 L229.55,853.4 L230.92,853.3 L232.28,853.3 L233.64,853.2 L235.01,853.2 L236.37,853.2 L237.74,853.1 L239.10,853.1 L240.46,853.1 L241.83,853.0 L243.19,853.0 L244.56,852.9 L245.92,852.9 L247.28,852.8 L248.65,852.8 L250.01,852.7 L251.37,852.6 L252.74,852.6 L254.10,852.5 L255.47,852.4 L256.83,852.3 L258.19,852.2 L259.56,852.1 L260.92,852.0 L262.28,851.9 L263.65,851.8 L265.01,851.7 L266.38,851.6 L267.74,851.5 L269.10,851.4 L270.47,851.2 L271.83,851.1 L273.20,851.0 L274.56,850.9 L275.92,850.7 L277.29,850.6 L278.65,850.5 L280.01,850.3 L281.38,850.2 L282.74,850.1 L284.11,849.9 L285.47,849.8 L286.83,849.6 L288.20,849.5 L289.56,849.3 L290.93,849.2 L292.29,849.0 L293.65,848.8 L295.02,848.7 L296.38,848.5 L297.74,848.3 L299.11,848.2 L300.47,848.0 L301.84,847.8 L303.20,847.6 L304.56,847.5 L305.93,847.3 L307.29,847.1 L308.65,846.9 L310.02,846.8 L311.38,846.6 L312.75,846.5 L314.11,846.3 L315.47,846.1 L316.84,845.9 L318.20,845.7 L319.57,845.5 L320.93,845.3 L322.29,845.1 L323.66,844.9 L325.02,844.8 L326.38,844.7 L327.75,844.6 L329.11,844.6 L330.48,844.5 L331.84,844.6 L333.20,844.6 L334.57,844.7 L335.93,844.7 L337.30,844.8 L338.66,844.8 L340.02,844.9 L341.39,844.9 L342.75,845.0 L344.11,845.0 L345.48,845.1 L346.84,845.1 L348.21,845.1 L349.57,845.2 L350.93,845.3 L352.30,845.4 L353.66,845.5 L355.02,845.6 L356.39,845.7 L357.75,845.7 L359.12,845.6 L360.48,845.5 L361.84,845.4 L363.21,845.2 L364.57,845.0 L365.94,844.8 L367.30,844.6 L368.66,844.4 L370.03,844.3 L371.39,844.2 L372.75,844.1 L374.12,844.2 L375.48,844.4 L376.85,844.7 L378.21,845.0 L379.57,845.3 L380.94,845.7 L382.30,846.2 L383.67,846.6 L385.03,847.0 L386.39,847.4 L387.76,847.8 L389.12,848.1 L390.48,848.3 L391.85,848.5 L393.21,848.7 L394.58,848.9 L395.94,849.0 L397.30,849.1 L398.67,849.2 L400.03,849.4 L401.39,849.5 L402.76,849.6 L404.12,849.7 L405.49,849.8 L406.85,849.9 L408.21,850.0 L409.58,850.1 L410.94,850.2 L412.31,850.2 L413.67,850.3 L415.03,850.4 L416.40,850.4 L417.76,850.5 L419.12,850.5 L420.49,850.6 L421.85,850.6 L423.22,850.7 L424.58,850.7 L425.94,850.7 L427.31,850.7 L428.67,850.7 L430.03,850.7 L431.40,850.7 L432.76,850.7 L434.13,850.7 L435.49,850.7 L436.85,850.7 L438.22,850.7 L439.58,850.7 L440.95,850.7 L442.31,850.7 L443.67,850.7 L445.04,850.7 L446.40,850.7 L447.76,850.7 L449.13,850.8 L450.49,850.8 L451.86,850.8 L453.22,850.8 L454.58,850.8 L455.95,850.8 L457.31,850.8 L458.68,850.8 L460.04,850.8 L461.40,850.8 L462.77,850.8 L464.13,850.9 L465.49,850.9 L466.86,850.9 L468.22,850.9 L469.59,850.9 L470.95,850.9 L472.31,850.9 L473.68,850.9 L475.04,851.0 L476.40,851.0 L477.77,851.0 L479.13,851.0 L480.50,851.0 L481.86,851.0 L483.22,851.0 L484.59,851.0 L485.95,851.1 L487.32,851.1 L488.68,851.1 L490.04,851.1 L491.41,851.1 L492.77,851.1 L494.13,851.2 L495.50,851.2 L496.86,851.2 L498.23,851.2 L499.59,851.2 L500.95,851.2 L502.32,851.2 L503.68,851.3 L505.05,851.3 L506.41,851.3 L507.77,851.3 L509.14,851.3 L510.50,851.3 L511.86,851.3 L513.23,851.3 L514.59,851.2 L515.96,851.2 L517.32,851.1 L518.68,851.1 L520.05,851.0 L521.41,850.9 L522.77,850.8 L524.14,850.7 L525.50,850.6 L526.87,850.5 L528.23,850.4 L529.59,850.3 L530.96,850.2 L532.32,850.1 L533.69,850.0 L535.05,849.9 L536.41,849.7 L537.78,849.6 L539.14,849.5 L540.50,849.4 L541.87,849.3 L543.23,849.1 L544.60,849.0 L545.96,848.9 L547.32,848.8 L548.69,848.7 L550.05,848.6 L551.42,848.5 L552.78,848.4 L554.14,848.3 L555.51,848.2 L556.87,848.1 L558.23,848.0 L559.60,847.9 L560.96,847.8 L562.33,847.8 L563.69,847.7 L565.05,847.7 L566.42,847.6 L567.78,847.6 L569.14,847.5 L570.51,847.5 L571.87,847.5 L573.24,847.5 L574.60,847.5 L575.96,847.5 L577.33,847.6 L578.69,847.6 L580.06,847.7 L581.42,847.7 L582.78,847.8 L584.15,847.9 L585.51,847.9 L586.87,848.0 L588.24,848.1 L589.60,848.2 L590.97,848.3 L592.33,848.4 L593.69,848.5 L595.06,848.6 L596.42,848.7 L597.79,848.8 L599.15,848.9 L600.51,848.9 L601.88,849.0 L603.24,849.1 L604.60,849.1 L605.97,849.2 L607.33,849.3 L608.70,849.4 L610.06,849.4 L611.42,849.5 L612.79,849.6 L614.15,849.7 L615.51,849.7 L616.88,849.8 L618.24,849.9 L619.61,850.0 L620.97,850.0 L622.33,850.1 L623.70,850.2 L625.06,850.2 L626.43,850.3 L627.79,850.4 L629.15,850.5 L630.52,850.6 L631.88,850.7 L633.24,850.7 L634.61,850.5 L635.97,850.2 L637.34,849.8 L638.70,849.3 L640.06,848.7 L641.43,848.2 L642.79,847.7 L644.15,847.2 L645.52,846.8 L646.88,846.4 L648.25,845.9 L649.61,845.5 L650.97,845.3 L652.34,845.1 L653.70,845.1 L655.07,845.2 L656.43,845.3 L657.79,845.5 L659.16,845.7 L660.52,845.9 L661.88,846.2 L663.25,846.4 L664.61,846.6 L665.98,846.9 L667.34,847.1 L668.70,847.4 L670.07,847.7 L671.43,848.0 L672.80,848.3 L674.16,848.6 L675.52,848.9 L676.89,849.2 L678.25,849.5 L679.61,849.7 L680.98,850.0 L682.34,850.2 L683.71,850.4 L685.07,850.6 L686.43,850.9 L687.80,851.1 L689.16,851.3 L690.52,851.5 L691.89,851.7 L693.25,851.9 L694.62,852.1 L695.98,852.3 L697.34,852.4 L698.71,852.6 L700.07,852.8 L701.44,852.9 L702.80,853.0 L704.16,853.1 L705.53,853.2 L706.89,853.3 L708.25,853.4 L709.62,853.5 L710.98,853.6 L712.35,853.7 L713.71,853.8 L715.07,853.9 L716.44,854.0 L717.80,854.1 L719.17,854.2 L720.53,854.2 L721.89,854.3 L723.26,854.4 L724.62,854.5 L725.98,854.6 L727.35,854.6 L728.71,854.7 L730.08,854.8 L731.44,854.8 L732.80,854.9 L734.17,855.0 L735.53,855.0 L736.89,855.1 L738.26,855.1 L739.62,855.2 L740.99,855.2 L742.35,855.3 L743.71,855.3 L745.08,855.4 L746.44,855.4 L747.81,855.4 L749.17,855.4 L750.53,855.5 L751.90,855.5 L753.26,855.5 L754.62,855.5 L755.99,855.5 L757.35,855.5 L758.72,855.5 L760.08,855.5 L761.44,855.4 L762.81,855.4 L764.17,855.3 L765.54,855.2 L766.90,855.1 L768.26,854.9 L769.63,854.8 L770.99,854.6 L772.35,854.4 L773.72,854.3 L775.08,854.1 L776.45,853.9 L777.81,853.7 L779.17,853.5 L780.54,853.2 L781.90,853.0 L783.26,852.8 L784.63,852.6 L785.99,852.4 L787.36,852.2 L788.72,851.9 L790.08,851.7 L791.45,851.5 L792.81,851.3 L794.18,851.2 L795.54,851.0 L796.90,850.8 L798.27,850.6 L799.63,850.4 L800.99,850.3 L802.36,850.1 L803.72,849.9 L805.09,849.7 L806.45,849.5 L807.81,849.3 L809.18,849.1 L810.54,848.7 L811.91,848.2 L813.27,847.5 L814.63,846.6 L816.00,845.7 L817.36,844.6 L818.72,843.2 L820.09,841.4 L821.45,839.3 L822.82,836.7 L824.18,833.5 L825.54,829.6 L826.91,824.5 L828.27,817.8 L829.63,809.3 L831.00,797.8 L832.36,781.1 L833.73,763.3 L835.09,746.6 L836.45,729.5 L837.82,714.2 L839.18,701.9 L840.55,691.1 L841.91,682.2 L843.36,682.2 L844.73,690.1 L846.09,699.8 L847.46,710.8 L848.82,724.1 L850.19,739.9 L851.56,755.8 L852.92,771.3 L854.29,787.4 L855.65,801.4 L857.02,811.7 L858.38,820.3 L859.75,827.0 L861.11,831.7 L862.48,835.5 L863.84,838.4 L865.21,840.3 L866.57,841.7 L867.94,842.9 L869.30,843.9 L870.67,844.8 L872.03,845.5 L873.40,846.1 L874.76,846.6 L876.13,847.0 L877.50,847.3 L878.86,847.6 L880.23,847.9 L881.59,848.2 L882.96,848.5 L884.32,848.7 L885.69,849.0 L887.05,849.3 L888.42,849.6 L889.78,849.9 L891.15,850.2 L892.51,850.6 L893.88,851.0 L895.24,851.4 L896.61,851.8 L897.97,852.1 L899.34,852.5 L900.70,852.8 L902.07,853.0 L903.44,853.2 L904.80,853.2 L906.17,853.2 L907.53,853.1 L908.90,852.9 L910.26,852.7 L911.63,852.5 L912.99,852.2 L914.36,851.9 L915.72,851.5 L917.09,851.2 L918.45,850.9 L919.82,850.5 L921.18,850.2 L922.55,849.8 L923.91,849.5 L925.28,849.1 L926.64,848.7 L928.01,848.4 L929.38,848.1 L930.74,847.8 L932.11,847.5 L933.47,847.3 L934.84,847.1 L936.20,846.8 L937.57,846.6 L938.93,846.5 L940.30,846.3 L941.66,846.1 L943.03,845.9 L944.39,845.8 L945.76,845.6 L947.12,845.5 L948.49,845.3 L949.85,845.1 L951.22,845.0 L952.58,844.8 L953.95,844.6 L955.32,844.4 L956.68,844.3 L958.05,844.1 L959.41,843.8 L960.78,843.6 L962.14,843.4 L963.51,843.1 L964.87,842.8 L966.24,842.5 L967.60,842.2 L968.97,841.8 L970.33,841.4 L971.70,840.9 L973.06,840.4 L974.43,839.7 L975.79,839.0 L977.16,838.2 L978.53,837.4 L979.89,836.4 L981.26,835.5 L982.62,834.4 L983.99,833.4 L985.35,832.3 L986.72,831.1 L988.08,829.8 L989.45,828.5 L990.81,827.1 L992.18,825.6 L993.54,824.1 L994.91,822.6 L996.27,821.0 L997.64,819.5 L999.00,818.0 L1000.37,816.4 L1001.73,814.9 L1003.10,813.3 L1004.47,811.7 L1005.83,810.0 L1007.20,808.3 L1008.56,806.5 L1009.93,804.6 L1011.29,802.6 L1012.66,800.6 L1014.02,798.4 L1015.39,796.0 L1016.75,793.4 L1018.12,790.5 L1019.48,787.2 L1020.85,783.6 L1022.21,779.5 L1023.58,774.7 L1024.94,770.5 L1026.31,766.9 L1027.67,763.3 L1029.04,759.0 L1030.40,753.9 L1031.77,748.6 L1033.14,743.6 L1034.50,738.8 L1035.87,734.1 L1037.23,729.4 L1038.60,724.6 L1039.96,720.0 L1041.33,715.7 L1042.69,711.6 L1044.06,707.7 L1045.42,704.2 L1046.79,701.1 L1048.15,698.1 L1049.52,695.4 L1050.88,693.1 L1052.24,691.2 L1053.61,689.5 L1054.97,687.9 L1056.34,686.5 L1057.70,685.4 L1059.06,684.5 L1060.43,684.0 L1061.79,683.5 L1063.15,683.1 L1064.52,682.8 L1065.88,682.5 L1067.24,682.3 L1068.60,682.3 L1069.96,682.2 L1071.33,682.0 L1072.69,681.9 L1074.05,681.7 L1075.41,681.5 L1076.76,681.3 L1078.12,681.1 L1079.48,680.9 L1080.83,680.7 L1082.19,680.4 L1083.54,680.1 L1084.90,679.7 L1086.25,679.2 L1087.60,678.7 L1088.95,678.1 L1090.30,677.5 L1091.65,676.7 L1093.00,675.5 L1094.34,674.1 L1095.69,672.5 L1097.03,670.9 L1098.37,669.2 L1099.72,667.7 L1101.05,666.1 L1102.39,664.4 L1103.73,662.5 L1105.07,660.5 L1106.40,658.4 L1107.74,655.9 L1109.07,653.2 L1110.40,650.4 L1111.73,647.6 L1113.06,644.8 L1114.39,642.0 L1115.72,638.8 L1117.05,635.1 L1118.38,630.8 L1119.71,626.2 L1121.04,621.2 L1122.37,615.7 L1123.70,609.9 L1125.03,603.6 L1126.36,596.9 L1127.69,589.9 L1129.02,582.6 L1130.36,574.9 L1131.70,566.8 L1133.03,558.4 L1134.37,549.7 L1135.72,540.2 L1137.06,529.4 L1138.41,518.9 L1139.76,510.6 L1141.11,504.7 L1142.46,499.2 L1143.82,494.6 L1145.18,491.1 L1146.55,489.0 L1147.27,489.0 L1148.64,497.2 L1150.01,505.6 L1151.38,514.0 L1152.76,522.3 L1154.13,531.1 L1155.51,541.5 L1156.90,554.4 L1158.28,568.9 L1159.67,583.6 L1161.06,598.6 L1162.45,613.8 L1163.84,628.5 L1165.24,643.2 L1166.63,657.2 L1168.03,669.6 L1169.43,680.5 L1170.83,690.6 L1172.23,700.0 L1173.63,709.0 L1175.03,717.5 L1176.43,724.5 L1177.83,730.5 L1179.23,735.8 L1180.63,740.9 L1182.03,746.2 L1183.43,751.9 L1184.83,757.9 L1186.23,763.7 L1187.63,769.0 L1189.02,774.0 L1190.42,778.7 L1191.81,783.1 L1193.20,787.0 L1194.60,790.4 L1195.99,793.6 L1197.37,796.4 L1198.76,799.2 L1200.15,801.8 L1201.53,804.4 L1202.92,806.8 L1204.30,809.2 L1205.68,811.6 L1207.06,814.1 L1208.44,816.5 L1209.82,819.0 L1211.20,821.5 L1212.57,824.0 L1213.95,826.3 L1215.32,828.4 L1216.70,830.2 L1218.07,831.7 L1219.44,832.9 L1220.81,834.0 L1222.18,835.1 L1223.55,836.0 L1224.92,836.9 L1226.29,837.6 L1227.66,838.1 L1229.03,838.5 L1230.40,839.0 L1231.76,839.5 L1233.13,839.9 L1234.50,840.3 L1235.86,840.7 L1237.23,841.0 L1238.60,841.2 L1239.96,841.4 L1241.33,841.6 L1242.69,841.7 L1244.06,841.7 L1245.42,841.7 L1246.79,841.6 L1248.15,841.6 L1249.52,841.4 L1250.88,841.3 L1252.25,841.2 L1253.61,841.0 L1254.98,840.8 L1256.34,840.6 L1257.71,840.4 L1259.07,840.2 L1260.44,839.9 L1261.80,839.6 L1263.17,839.3 L1264.53,839.0 L1265.90,838.7 L1267.26,838.4 L1268.62,838.1 L1269.99,837.7 L1271.35,837.4 L1272.72,837.1 L1274.08,836.7 L1275.45,836.4 L1276.81,836.0 L1278.18,835.7 L1279.54,835.3 L1280.91,835.0 L1282.27,834.6 L1283.63,834.2 L1285.00,833.8 L1286.36,833.3 L1287.73,832.8 L1289.09,832.2 L1290.46,831.5 L1291.82,830.9 L1293.19,830.1 L1294.55,829.4 L1295.92,828.5 L1297.28,827.5 L1298.64,826.4 L1300.01,825.2 L1301.37,824.0 L1302.74,822.7 L1304.10,821.2 L1305.47,819.4 L1306.83,817.4 L1308.20,815.4 L1309.56,813.4 L1310.93,811.7 L1312.29,810.0 L1313.65,808.4 L1315.02,806.9 L1316.38,805.4 L1317.75,804.0 L1319.11,802.6 L1320.48,801.2 L1321.84,799.9 L1323.21,799.0 L1324.57,798.4 L1325.93,798.0 L1327.30,797.7 L1328.66,797.5 L1330.03,797.4 L1331.39,797.6 L1332.76,798.1 L1334.12,798.6 L1335.49,799.0 L1336.85,799.3 L1338.21,799.6 L1339.58,800.3 L1340.94,801.1 L1342.31,801.8 L1343.67,802.1 L1345.03,802.1 L1346.40,801.8 L1347.76,801.3 L1349.13,800.6 L1350.49,799.9 L1351.85,798.6 L1353.22,797.0 L1354.58,795.3 L1355.94,793.6 L1357.30,791.7 L1358.67,789.7 L1360.03,788.0 L1361.39,787.1 L1362.75,786.6 L1364.11,786.1 L1365.47,785.8 L1366.84,785.4 L1368.20,784.9 L1369.55,784.0 L1370.91,782.4 L1372.27,779.9 L1373.63,777.0 L1374.99,773.4 L1376.35,769.0 L1377.70,763.4 L1379.06,756.2 L1380.41,750.1 L1381.77,745.1 L1383.12,739.8 L1384.48,733.4 L1385.83,726.3 L1387.18,718.5 L1388.53,710.3 L1389.89,702.0 L1391.24,693.7 L1392.59,685.5 L1393.94,677.2 L1395.29,669.1 L1396.64,661.7 L1397.99,655.1 L1399.34,648.3 L1400.69,641.3 L1402.04,632.7 L1403.39,621.7 L1404.74,608.9 L1406.09,594.5 L1407.44,578.9 L1408.79,562.2 L1410.15,542.7 L1411.50,520.7 L1412.85,498.7 L1414.21,477.8 L1415.57,456.5 L1416.92,436.5 L1418.28,419.4 L1419.64,404.5 L1421.00,390.9 L1422.36,379.0 L1423.73,369.0 L1424.82,369.0 L1426.18,382.6 L1427.55,397.2 L1428.92,412.9 L1430.29,429.6 L1431.66,447.5 L1433.03,466.6 L1434.40,486.6 L1435.78,507.8 L1437.15,530.9 L1438.53,553.8 L1439.91,574.7 L1441.28,595.9 L1442.66,615.7 L1444.04,631.6 L1445.42,642.1 L1446.80,649.5 L1448.18,655.7 L1449.56,662.3 L1450.93,671.2 L1452.31,682.2 L1453.69,691.6 L1455.07,699.7 L1456.45,707.6 L1457.83,716.0 L1459.21,724.4 L1460.58,731.5 L1461.96,737.8 L1463.34,743.4 L1464.71,748.3 L1466.09,752.7 L1467.47,756.7 L1468.84,760.4 L1470.21,764.0 L1471.59,767.6 L1472.96,771.0 L1474.33,774.1 L1475.70,776.8 L1477.07,779.1 L1478.45,781.2 L1479.82,783.1 L1481.19,785.1 L1482.55,787.1 L1483.92,789.1 L1485.29,791.1 L1486.66,793.1 L1488.03,795.0 L1489.40,796.9 L1490.76,798.6 L1492.13,800.4 L1493.50,802.1 L1494.86,803.7 L1496.23,805.2 L1497.59,806.5 L1498.96,807.7 L1500.33,809.0 L1501.69,810.3 L1503.06,811.4 L1504.42,812.1 L1505.79,812.2 L1507.15,812.0 L1508.52,811.6 L1509.88,811.1 L1511.25,810.6 L1512.61,810.0 L1513.98,808.7 L1515.34,806.6 L1516.71,804.3 L1518.07,801.8 L1519.44,798.7 L1520.80,795.4 L1522.17,792.6 L1523.53,789.8 L1524.90,787.5 L1526.26,785.8 L1527.63,784.3 L1528.99,783.5 L1530.36,783.6 L1531.72,783.7 L1533.08,783.8 L1534.45,783.9 L1535.81,784.1 L1537.18,784.2 L1538.54,784.3 L1539.91,784.5 L1541.27,784.9 L1542.64,785.3 L1544.00,785.6 L1545.37,785.7 L1546.73,785.7 L1548.10,785.8 L1549.46,785.8 L1550.83,785.9 L1552.19,786.1 L1553.56,786.7 L1554.92,788.0 L1556.29,789.6 L1557.65,791.3 L1559.01,792.7 L1560.38,793.9 L1561.74,795.2 L1563.11,796.3 L1564.47,797.2 L1565.84,797.7 L1567.20,798.3 L1568.57,798.8 L1569.93,799.0 L1571.30,799.0 L1572.66,799.0 L1574.03,799.0 L1575.39,798.9 L1576.76,798.9 L1578.12,798.9 L1579.49,799.0 L1580.85,800.6 L1582.21,803.1 L1583.58,805.7 L1584.94,809.3 L1586.31,813.2 L1587.67,816.7 L1589.04,820.1 L1590.40,823.1 L1591.77,825.4 L1593.13,827.3 L1594.50,829.0 L1595.86,830.5 L1597.23,831.7 L1598.59,832.8 L1599.96,833.8 L1601.32,834.8 L1602.69,835.6 L1604.05,836.4 L1605.41,837.0 L1606.78,837.6 L1608.14,838.2 L1609.51,838.7 L1610.87,839.1 L1612.24,839.5 L1613.60,839.9 L1614.97,840.2 L1616.33,840.4 L1617.70,840.7 L1619.06,840.9 L1620.43,841.2 L1621.79,841.4 L1623.16,841.6 L1624.52,841.8 L1625.89,842.0 L1627.25,842.1 L1628.61,842.3 L1629.98,842.5 L1631.34,842.6 L1632.71,842.8 L1634.07,843.0 L1635.44,843.2 L1636.80,843.3 L1638.17,843.5 L1639.53,843.7 L1640.90,843.8 L1642.26,844.0 L1643.63,844.1 L1644.99,844.3 L1646.36,844.4 L1647.72,844.6 L1649.09,844.7 L1650.45,844.9 L1651.81,845.0 L1653.18,845.1 L1654.54,845.3 L1655.91,845.4"/>
<path d="M172.27,969.5 L173.64,969.4 L175.00,969.3 L176.36,969.2 L177.73,969.1 L179.09,969.0 L180.46,968.8 L181.82,968.7 L183.18,968.6 L184.55,968.5 L185.91,968.5 L187.27,968.4 L188.64,968.3 L190.00,968.2 L191.37,968.1 L192.73,968.0 L194.09,967.9 L195.46,967.8 L196.82,967.8 L198.19,967.7 L199.55,967.6 L200.91,967.5 L202.28,967.4 L203.64,967.4 L205.00,967.3 L206.37,967.2 L207.73,967.2 L209.10,967.1 L210.46,967.0 L211.82,967.0 L213.19,966.9 L214.55,966.8 L215.92,966.8 L217.28,966.7 L218.64,966.7 L220.01,966.6 L221.37,966.6 L222.73,966.5 L224.10,966.4 L225.46,966.4 L226.83,966.3 L228.19,966.3 L229.55,966.2 L230.92,966.2 L232.28,966.1 L233.64,966.1 L235.01,966.0 L236.37,966.0 L237.74,966.0 L239.10,965.9 L240.46,965.9 L241.83,965.8 L243.19,965.8 L244.56,965.7 L245.92,965.7 L247.28,965.6 L248.65,965.5 L250.01,965.5 L251.37,965.4 L252.74,965.3 L254.10,965.2 L255.47,965.1 L256.83,964.9 L258.19,964.8 L259.56,964.7 L260.92,964.6 L262.28,964.4 L263.65,964.3 L265.01,964.2 L266.38,964.0 L267.74,963.9 L269.10,963.7 L270.47,963.6 L271.83,963.4 L273.20,963.3 L274.56,963.2 L275.92,963.0 L277.29,962.9 L278.65,962.7 L280.01,962.6 L281.38,962.4 L282.74,962.3 L284.11,962.1 L285.47,962.0 L286.83,961.8 L288.20,961.7 L289.56,961.5 L290.93,961.3 L292.29,961.2 L293.65,961.0 L295.02,960.8 L296.38,960.7 L297.74,960.5 L299.11,960.3 L300.47,960.1 L301.84,960.0 L303.20,959.8 L304.56,959.6 L305.93,959.5 L307.29,959.3 L308.65,959.1 L310.02,959.0 L311.38,958.8 L312.75,958.7 L314.11,958.5 L315.47,958.3 L316.84,958.1 L318.20,957.9 L319.57,957.7 L320.93,957.6 L322.29,957.4 L323.66,957.3 L325.02,957.1 L326.38,957.0 L327.75,957.0 L329.11,956.9 L330.48,956.9 L331.84,957.0 L333.20,957.0 L334.57,957.1 L335.93,957.1 L337.30,957.2 L338.66,957.2 L340.02,957.2 L341.39,957.3 L342.75,957.3 L344.11,957.3 L345.48,957.3 L346.84,957.4 L348.21,957.4 L349.57,957.4 L350.93,957.4 L352.30,957.5 L353.66,957.6 L355.02,957.7 L356.39,957.7 L357.75,957.7 L359.12,957.7 L360.48,957.6 L361.84,957.4 L363.21,957.3 L364.57,957.1 L365.94,956.9 L367.30,956.8 L368.66,956.6 L370.03,956.4 L371.39,956.3 L372.75,956.3 L374.12,956.4 L375.48,956.6 L376.85,956.9 L378.21,957.2 L379.57,957.5 L380.94,957.9 L382.30,958.3 L383.67,958.7 L385.03,959.1 L386.39,959.5 L387.76,959.9 L389.12,960.2 L390.48,960.4 L391.85,960.6 L393.21,960.8 L394.58,961.0 L395.94,961.1 L397.30,961.2 L398.67,961.3 L400.03,961.4 L401.39,961.6 L402.76,961.7 L404.12,961.8 L405.49,961.9 L406.85,962.0 L408.21,962.0 L409.58,962.1 L410.94,962.2 L412.31,962.3 L413.67,962.4 L415.03,962.4 L416.40,962.5 L417.76,962.6 L419.12,962.6 L420.49,962.7 L421.85,962.7 L423.22,962.8 L424.58,962.8 L425.94,962.9 L427.31,962.9 L428.67,962.9 L430.03,963.0 L431.40,963.0 L432.76,963.0 L434.13,963.0 L435.49,963.1 L436.85,963.1 L438.22,963.1 L439.58,963.2 L440.95,963.2 L442.31,963.2 L443.67,963.3 L445.04,963.3 L446.40,963.3 L447.76,963.3 L449.13,963.4 L450.49,963.4 L451.86,963.4 L453.22,963.5 L454.58,963.5 L455.95,963.5 L457.31,963.6 L458.68,963.6 L460.04,963.6 L461.40,963.7 L462.77,963.7 L464.13,963.7 L465.49,963.8 L466.86,963.8 L468.22,963.8 L469.59,963.8 L470.95,963.9 L472.31,963.9 L473.68,963.9 L475.04,964.0 L476.40,964.0 L477.77,964.0 L479.13,964.1 L480.50,964.1 L481.86,964.1 L483.22,964.2 L484.59,964.2 L485.95,964.2 L487.32,964.2 L488.68,964.3 L490.04,964.3 L491.41,964.3 L492.77,964.3 L494.13,964.4 L495.50,964.4 L496.86,964.4 L498.23,964.4 L499.59,964.5 L500.95,964.5 L502.32,964.5 L503.68,964.5 L505.05,964.6 L506.41,964.6 L507.77,964.6 L509.14,964.6 L510.50,964.6 L511.86,964.6 L513.23,964.6 L514.59,964.6 L515.96,964.6 L517.32,964.6 L518.68,964.5 L520.05,964.5 L521.41,964.5 L522.77,964.4 L524.14,964.4 L525.50,964.3 L526.87,964.2 L528.23,964.2 L529.59,964.1 L530.96,964.0 L532.32,964.0 L533.69,963.9 L535.05,963.8 L536.41,963.7 L537.78,963.7 L539.14,963.6 L540.50,963.5 L541.87,963.5 L543.23,963.4 L544.60,963.3 L545.96,963.2 L547.32,963.2 L548.69,963.1 L550.05,963.0 L551.42,963.0 L552.78,962.9 L554.14,962.8 L555.51,962.8 L556.87,962.7 L558.23,962.7 L559.60,962.6 L560.96,962.6 L562.33,962.5 L563.69,962.5 L565.05,962.4 L566.42,962.4 L567.78,962.4 L569.14,962.4 L570.51,962.3 L571.87,962.3 L573.24,962.3 L574.60,962.3 L575.96,962.2 L577.33,962.2 L578.69,962.1 L580.06,962.0 L581.42,961.9 L582.78,961.8 L584.15,961.7 L585.51,961.5 L586.87,961.4 L588.24,961.3 L589.60,961.2 L590.97,961.0 L592.33,960.9 L593.69,960.8 L595.06,960.7 L596.42,960.6 L597.79,960.5 L599.15,960.4 L600.51,960.4 L601.88,960.4 L603.24,960.4 L604.60,960.5 L605.97,960.7 L607.33,960.8 L608.70,961.0 L610.06,961.2 L611.42,961.4 L612.79,961.6 L614.15,961.7 L615.51,961.9 L616.88,962.0 L618.24,962.1 L619.61,962.2 L620.97,962.4 L622.33,962.5 L623.70,962.6 L625.06,962.7 L626.43,962.7 L627.79,962.8 L629.15,962.8 L630.52,962.8 L631.88,962.7 L633.24,962.5 L634.61,962.1 L635.97,961.6 L637.34,961.1 L638.70,960.4 L640.06,959.8 L641.43,959.2 L642.79,958.7 L644.15,958.3 L645.52,957.9 L646.88,957.5 L648.25,957.2 L649.61,956.9 L650.97,956.7 L652.34,956.7 L653.70,956.7 L655.07,956.9 L656.43,957.0 L657.79,957.3 L659.16,957.6 L660.52,957.8 L661.88,958.1 L663.25,958.4 L664.61,958.7 L665.98,959.0 L667.34,959.3 L668.70,959.6 L670.07,959.9 L671.43,960.3 L672.80,960.6 L674.16,960.9 L675.52,961.2 L676.89,961.5 L678.25,961.8 L679.61,962.0 L680.98,962.2 L682.34,962.4 L683.71,962.6 L685.07,962.9 L686.43,963.1 L687.80,963.3 L689.16,963.5 L690.52,963.7 L691.89,963.9 L693.25,964.1 L694.62,964.3 L695.98,964.4 L697.34,964.6 L698.71,964.7 L700.07,964.9 L701.44,965.0 L702.80,965.1 L704.16,965.3 L705.53,965.4 L706.89,965.4 L708.25,965.5 L709.62,965.6 L710.98,965.7 L712.35,965.8 L713.71,965.9 L715.07,966.0 L716.44,966.1 L717.80,966.1 L719.17,966.2 L720.53,966.3 L721.89,966.4 L723.26,966.5 L724.62,966.7 L725.98,966.8 L727.35,966.9 L728.71,967.1 L730.08,967.2 L731.44,967.4 L732.80,967.5 L734.17,967.7 L735.53,967.9 L736.89,968.0 L738.26,968.2 L739.62,968.4 L740.99,968.5 L742.35,968.7 L743.71,968.8 L745.08,969.0 L746.44,969.1 L747.81,969.2 L749.17,969.3 L750.53,969.4 L751.90,969.5 L753.26,969.6 L754.62,969.6 L755.99,969.7 L757.35,969.7 L758.72,969.7 L760.08,969.7 L761.44,969.7 L762.81,969.6 L764.17,969.6 L765.54,969.5 L766.90,969.4 L768.26,969.3 L769.63,969.2 L770.99,969.1 L772.35,969.0 L773.72,968.8 L775.08,968.7 L776.45,968.6 L777.81,968.4 L779.17,968.3 L780.54,968.1 L781.90,968.0 L783.26,967.8 L784.63,967.7 L785.99,967.5 L787.36,967.3 L788.72,967.2 L790.08,967.0 L791.45,966.9 L792.81,966.7 L794.18,966.6 L795.54,966.5 L796.90,966.3 L798.27,966.2 L799.63,966.0 L800.99,965.9 L802.36,965.8 L803.72,965.6 L805.09,965.4 L806.45,965.2 L807.81,965.0 L809.18,964.8 L810.54,964.5 L811.91,963.9 L813.27,963.2 L814.63,962.4 L816.00,961.4 L817.36,960.3 L818.72,958.9 L820.09,957.1 L821.45,955.0 L822.82,952.5 L824.18,949.3 L825.54,945.4 L826.91,940.4 L828.27,933.7 L829.63,925.3 L831.00,914.0 L832.36,897.6 L833.73,880.0 L835.09,863.5 L836.45,846.7 L837.82,831.7 L839.18,819.5 L840.55,808.9 L841.91,800.2 L843.36,800.2 L844.73,808.0 L846.09,817.5 L847.46,828.4 L848.82,841.5 L850.19,857.0 L851.56,872.7 L852.92,888.1 L854.29,903.9 L855.65,917.8 L857.02,928.0 L858.38,936.4 L859.75,943.1 L861.11,947.8 L862.48,951.6 L863.84,954.6 L865.21,956.6 L866.57,958.0 L867.94,959.2 L869.30,960.3 L870.67,961.2 L872.03,962.0 L873.40,962.6 L874.76,963.1 L876.13,963.6 L877.50,963.9 L878.86,964.2 L880.23,964.5 L881.59,964.8 L882.96,965.0 L884.32,965.3 L885.69,965.5 L887.05,965.7 L888.42,965.9 L889.78,966.1 L891.15,966.3 L892.51,966.5 L893.88,966.7 L895.24,966.9 L896.61,967.1 L897.97,967.3 L899.34,967.5 L900.70,967.7 L902.07,967.8 L903.44,967.9 L904.80,967.9 L906.17,967.9 L907.53,967.8 L908.90,967.7 L910.26,967.6 L911.63,967.4 L912.99,967.2 L914.36,967.0 L915.72,966.8 L917.09,966.6 L918.45,966.4 L919.82,966.2 L921.18,965.9 L922.55,965.7 L923.91,965.5 L925.28,965.2 L926.64,965.0 L928.01,964.7 L929.38,964.5 L930.74,964.2 L932.11,964.0 L933.47,963.8 L934.84,963.6 L936.20,963.5 L937.57,963.4 L938.93,963.3 L940.30,963.2 L941.66,963.2 L943.03,963.2 L944.39,963.2 L945.76,963.2 L947.12,963.3 L948.49,963.3 L949.85,963.3 L951.22,963.4 L952.58,963.4 L953.95,963.4 L955.32,963.4 L956.68,963.4 L958.05,963.4 L959.41,963.3 L960.78,963.3 L962.14,963.2 L963.51,963.0 L964.87,962.9 L966.24,962.7 L967.60,962.4 L968.97,962.1 L970.33,961.7 L971.70,961.3 L973.06,960.9 L974.43,960.5 L975.79,960.0 L977.16,959.5 L978.53,958.9 L979.89,958.4 L981.26,957.8 L982.62,957.2 L983.99,956.5 L985.35,955.8 L986.72,955.0 L988.08,954.2 L989.45,953.3 L990.81,952.2 L992.18,951.2 L993.54,950.0 L994.91,948.9 L996.27,947.6 L997.64,946.3 L999.00,945.0 L1000.37,943.6 L1001.73,942.2 L1003.10,940.7 L1004.47,939.0 L1005.83,937.3 L1007.20,935.5 L1008.56,933.5 L1009.93,931.5 L1011.29,929.5 L1012.66,927.3 L1014.02,924.9 L1015.39,922.4 L1016.75,919.6 L1018.12,916.5 L1019.48,913.0 L1020.85,909.2 L1022.21,904.9 L1023.58,900.0 L1024.94,895.6 L1026.31,891.8 L1027.67,888.0 L1029.04,883.5 L1030.40,878.2 L1031.77,872.6 L1033.14,867.5 L1034.50,862.5 L1035.87,857.6 L1037.23,852.7 L1038.60,847.8 L1039.96,843.0 L1041.33,838.5 L1042.69,834.2 L1044.06,830.1 L1045.42,826.4 L1046.78,823.1 L1048.15,819.9 L1049.51,817.0 L1050.88,814.5 L1052.24,812.5 L1053.61,810.6 L1054.97,808.9 L1056.33,807.4 L1057.70,806.1 L1059.06,805.1 L1060.42,804.4 L1061.79,803.8 L1063.15,803.3 L1064.51,802.8 L1065.87,802.4 L1067.23,802.2 L1068.59,802.0 L1069.95,801.9 L1071.31,801.7 L1072.67,801.5 L1074.03,801.3 L1075.38,801.1 L1076.74,800.8 L1078.09,800.6 L1079.45,800.3 L1080.80,800.1 L1082.15,799.8 L1083.50,799.4 L1084.85,799.0 L1086.20,798.5 L1087.54,798.0 L1088.89,797.5 L1090.23,796.9 L1091.57,796.2 L1092.91,795.2 L1094.25,794.0 L1095.58,792.7 L1096.92,791.3 L1098.25,789.9 L1099.58,788.6 L1100.91,787.1 L1102.23,785.4 L1103.56,783.6 L1104.88,781.6 L1106.20,779.6 L1107.53,777.2 L1108.84,774.6 L1110.16,771.8 L1111.48,769.1 L1112.79,766.4 L1114.11,763.6 L1115.42,760.5 L1116.74,756.9 L1118.05,752.7 L1119.36,748.2 L1120.68,743.3 L1121.99,738.0 L1123.30,732.3 L1124.62,726.2 L1125.94,719.7 L1127.26,712.9 L1128.58,705.8 L1129.90,698.3 L1131.22,690.4 L1132.55,682.3 L1133.88,673.8 L1135.21,664.6 L1136.55,654.1 L1137.89,643.9 L1139.23,635.9 L1140.58,630.1 L1141.93,624.9 L1143.28,620.4 L1144.64,617.0 L1146.00,615.0 L1146.73,615.0 L1148.10,623.0 L1149.47,631.3 L1150.84,639.7 L1152.22,648.0 L1153.61,657.0 L1154.99,667.4 L1156.38,680.5 L1157.78,695.1 L1159.17,709.8 L1160.57,724.9 L1161.98,740.3 L1163.38,755.3 L1164.79,770.1 L1166.20,784.4 L1167.61,797.1 L1169.02,808.5 L1170.44,819.0 L1171.85,828.8 L1173.27,838.2 L1174.68,847.2 L1176.10,854.7 L1177.52,861.1 L1178.93,866.9 L1180.35,873.1 L1181.77,879.9 L1183.18,887.1 L1184.59,894.1 L1186.01,900.2 L1187.42,905.1 L1188.83,909.2 L1190.23,912.8 L1191.64,916.0 L1193.04,918.9 L1194.45,921.6 L1195.85,924.3 L1197.25,926.9 L1198.65,929.2 L1200.04,931.5 L1201.44,933.7 L1202.83,935.8 L1204.22,937.9 L1205.61,939.8 L1206.99,941.6 L1208.38,943.4 L1209.76,945.0 L1211.15,946.5 L1212.53,948.1 L1213.91,949.5 L1215.29,950.8 L1216.66,952.0 L1218.04,953.0 L1219.41,954.0 L1220.79,955.2 L1222.16,956.5 L1223.53,957.8 L1224.91,959.0 L1226.28,960.1 L1227.65,960.9 L1229.02,961.4 L1230.39,961.7 L1231.75,962.0 L1233.12,962.3 L1234.49,962.5 L1235.86,962.7 L1237.22,962.8 L1238.59,962.9 L1239.96,962.9 L1241.32,962.9 L1242.69,962.9 L1244.06,962.9 L1245.42,962.9 L1246.79,962.9 L1248.15,962.8 L1249.52,962.8 L1250.88,962.8 L1252.25,962.7 L1253.61,962.6 L1254.98,962.6 L1256.34,962.5 L1257.71,962.4 L1259.07,962.3 L1260.44,962.2 L1261.80,962.0 L1263.17,961.8 L1264.53,961.6 L1265.90,961.5 L1267.26,961.3 L1268.62,961.0 L1269.99,960.8 L1271.35,960.6 L1272.72,960.3 L1274.08,960.1 L1275.45,959.8 L1276.81,959.5 L1278.18,959.2 L1279.54,958.9 L1280.91,958.5 L1282.27,958.2 L1283.63,957.8 L1285.00,957.3 L1286.36,956.7 L1287.73,956.0 L1289.09,955.3 L1290.46,954.5 L1291.82,953.7 L1293.19,952.9 L1294.55,952.1 L1295.92,951.2 L1297.28,950.2 L1298.64,949.1 L1300.01,948.0 L1301.37,946.7 L1302.74,945.4 L1304.10,944.0 L1305.47,942.2 L1306.83,940.2 L1308.20,938.1 L1309.56,936.2 L1310.93,934.4 L1312.29,932.7 L1313.65,931.1 L1315.02,929.6 L1316.38,928.1 L1317.75,926.8 L1319.11,925.3 L1320.48,923.9 L1321.84,922.7 L1323.21,921.6 L1324.57,921.0 L1325.93,920.3 L1327.30,919.8 L1328.66,919.3 L1330.03,919.0 L1331.39,919.0 L1332.76,919.2 L1334.12,919.6 L1335.49,919.9 L1336.85,920.1 L1338.21,920.4 L1339.58,921.0 L1340.94,921.7 L1342.31,922.2 L1343.67,922.2 L1345.03,921.8 L1346.40,921.2 L1347.76,920.2 L1349.12,919.0 L1350.49,917.7 L1351.85,915.8 L1353.21,913.7 L1354.58,911.6 L1355.94,909.6 L1357.30,908.1 L1358.66,906.9 L1360.02,906.0 L1361.38,905.3 L1362.74,905.0 L1364.10,904.8 L1365.46,904.7 L1366.82,904.7 L1368.18,904.5 L1369.54,903.8 L1370.89,902.3 L1372.25,899.9 L1373.61,897.1 L1374.96,893.7 L1376.31,889.4 L1377.67,884.0 L1379.02,876.9 L1380.37,871.0 L1381.72,866.1 L1383.07,860.9 L1384.42,854.7 L1385.77,847.7 L1387.12,840.1 L1388.47,832.0 L1389.81,824.0 L1391.16,815.9 L1392.50,807.8 L1393.85,799.7 L1395.19,791.7 L1396.54,784.5 L1397.88,778.0 L1399.23,771.2 L1400.57,764.4 L1401.91,755.9 L1403.26,745.2 L1404.60,732.7 L1405.95,718.7 L1407.29,703.5 L1408.64,687.3 L1409.99,668.3 L1411.34,646.9 L1412.69,625.6 L1414.04,605.3 L1415.39,584.7 L1416.75,565.3 L1418.10,548.7 L1419.46,534.3 L1420.82,521.1 L1422.18,509.5 L1423.55,499.9 L1424.64,499.9 L1426.00,513.0 L1427.37,527.2 L1428.74,542.4 L1430.11,558.5 L1431.49,575.9 L1432.86,594.4 L1434.24,613.7 L1435.61,634.2 L1436.99,656.6 L1438.37,678.7 L1439.75,699.0 L1441.14,719.5 L1442.52,738.6 L1443.90,754.1 L1445.29,764.2 L1446.67,771.4 L1448.06,777.4 L1449.44,783.9 L1450.83,792.5 L1452.21,803.2 L1453.60,812.4 L1454.98,820.2 L1456.37,827.9 L1457.75,836.1 L1459.13,844.2 L1460.52,851.1 L1461.90,857.3 L1463.28,862.8 L1464.66,867.6 L1466.04,871.8 L1467.42,875.7 L1468.80,879.4 L1470.18,882.9 L1471.55,886.5 L1472.93,889.8 L1474.30,892.8 L1475.68,895.4 L1477.05,897.7 L1478.43,899.8 L1479.80,901.7 L1481.17,903.7 L1482.54,905.6 L1483.91,907.6 L1485.28,909.6 L1486.65,911.6 L1488.02,913.5 L1489.39,915.3 L1490.76,917.1 L1492.12,918.9 L1493.49,920.6 L1494.86,922.3 L1496.22,923.9 L1497.59,925.3 L1498.96,926.6 L1500.32,928.0 L1501.69,929.5 L1503.06,930.7 L1504.42,931.6 L1505.79,931.9 L1507.15,931.8 L1508.52,931.6 L1509.88,931.3 L1511.25,930.9 L1512.61,930.4 L1513.98,929.1 L1515.34,927.0 L1516.71,924.6 L1518.07,922.1 L1519.44,918.8 L1520.80,915.4 L1522.17,912.4 L1523.53,909.5 L1524.90,907.1 L1526.26,905.3 L1527.63,903.7 L1528.99,902.9 L1530.36,902.9 L1531.72,903.0 L1533.08,903.2 L1534.45,903.5 L1535.81,903.8 L1537.18,904.1 L1538.54,904.4 L1539.91,904.8 L1541.27,905.4 L1542.64,905.9 L1544.00,906.3 L1545.37,906.5 L1546.73,906.6 L1548.10,906.7 L1549.46,906.8 L1550.83,906.9 L1552.19,907.0 L1553.56,907.3 L1554.92,908.3 L1556.29,909.7 L1557.65,911.3 L1559.01,912.7 L1560.38,914.1 L1561.74,915.6 L1563.11,917.0 L1564.47,918.1 L1565.84,918.9 L1567.20,919.5 L1568.57,920.1 L1569.93,920.4 L1571.30,920.5 L1572.66,920.6 L1574.03,920.6 L1575.39,920.6 L1576.76,920.6 L1578.12,920.6 L1579.49,920.7 L1580.85,922.1 L1582.21,924.4 L1583.58,926.8 L1584.94,930.1 L1586.31,933.7 L1587.67,936.9 L1589.04,940.0 L1590.40,942.8 L1591.77,944.9 L1593.13,946.6 L1594.50,948.1 L1595.86,949.5 L1597.23,950.7 L1598.59,951.8 L1599.96,952.9 L1601.32,954.0 L1602.69,954.9 L1604.05,955.8 L1605.41,956.6 L1606.78,957.3 L1608.14,957.9 L1609.51,958.5 L1610.87,959.0 L1612.24,959.4 L1613.60,959.9 L1614.97,960.2 L1616.33,960.6 L1617.70,960.9 L1619.06,961.2 L1620.43,961.4 L1621.79,961.7 L1623.16,962.0 L1624.52,962.2 L1625.89,962.4 L1627.25,962.6 L1628.61,962.8 L1629.98,963.1 L1631.34,963.3 L1632.71,963.5 L1634.07,963.7 L1635.44,963.9 L1636.80,964.1 L1638.17,964.3 L1639.53,964.5 L1640.90,964.7 L1642.26,964.8 L1643.63,965.0 L1644.99,965.2 L1646.36,965.4 L1647.72,965.5 L1649.09,965.7 L1650.45,965.8 L1651.81,966.0 L1653.18,966.1 L1654.54,966.3 L1655.91,966.4"/>
<path d="M172.27,1083.0 L173.64,1083.1 L175.00,1083.2 L176.36,1083.3 L177.73,1083.3 L179.09,1083.4 L180.46,1083.5 L181.82,1083.6 L183.18,1083.7 L184.55,1083.7 L185.91,1083.8 L187.27,1083.9 L188.64,1084.0 L190.00,1084.0 L191.37,1084.1 L192.73,1084.2 L194.09,1084.2 L195.46,1084.3 L196.82,1084.4 L198.19,1084.4 L199.55,1084.5 L200.91,1084.6 L202.28,1084.6 L203.64,1084.7 L205.00,1084.7 L206.37,1084.8 L207.73,1084.8 L209.10,1084.9 L210.46,1084.9 L211.82,1085.0 L213.19,1085.0 L214.55,1085.1 L215.92,1085.1 L217.28,1085.2 L218.64,1085.2 L220.01,1085.3 L221.37,1085.3 L222.73,1085.4 L224.10,1085.4 L225.46,1085.4 L226.83,1085.5 L228.19,1085.5 L229.55,1085.5 L230.92,1085.6 L232.28,1085.6 L233.64,1085.6 L235.01,1085.6 L236.37,1085.7 L237.74,1085.7 L239.10,1085.7 L240.46,1085.7 L241.83,1085.8 L243.19,1085.8 L244.56,1085.8 L245.92,1085.8 L247.28,1085.8 L248.65,1085.7 L250.01,1085.7 L251.37,1085.6 L252.74,1085.5 L254.10,1085.4 L255.47,1085.3 L256.83,1085.2 L258.19,1085.1 L259.56,1085.0 L260.92,1084.9 L262.28,1084.7 L263.65,1084.6 L265.01,1084.5 L266.38,1084.3 L267.74,1084.1 L269.10,1084.0 L270.47,1083.8 L271.83,1083.7 L273.20,1083.5 L274.56,1083.4 L275.92,1083.2 L277.29,1083.0 L278.65,1082.9 L280.01,1082.8 L281.38,1082.6 L282.74,1082.5 L284.11,1082.3 L285.47,1082.2 L286.83,1082.0 L288.20,1081.9 L289.56,1081.8 L290.93,1081.6 L292.29,1081.5 L293.65,1081.3 L295.02,1081.1 L296.38,1081.0 L297.74,1080.8 L299.11,1080.7 L300.47,1080.5 L301.84,1080.4 L303.20,1080.2 L304.56,1080.0 L305.93,1079.9 L307.29,1079.7 L308.65,1079.6 L310.02,1079.4 L311.38,1079.3 L312.75,1079.1 L314.11,1078.9 L315.47,1078.8 L316.84,1078.6 L318.20,1078.4 L319.57,1078.2 L320.93,1078.0 L322.29,1077.8 L323.66,1077.6 L325.02,1077.4 L326.38,1077.2 L327.75,1077.0 L329.11,1076.9 L330.48,1076.7 L331.84,1076.6 L333.20,1076.5 L334.57,1076.3 L335.93,1076.2 L337.30,1076.1 L338.66,1076.0 L340.02,1075.9 L341.39,1075.8 L342.75,1075.6 L344.11,1075.5 L345.48,1075.4 L346.84,1075.3 L348.21,1075.1 L349.57,1075.0 L350.93,1074.9 L352.30,1074.8 L353.66,1074.8 L355.02,1074.8 L356.39,1074.8 L357.75,1074.9 L359.12,1074.9 L360.48,1074.9 L361.84,1074.8 L363.21,1074.6 L364.57,1074.3 L365.94,1074.0 L367.30,1073.6 L368.66,1073.2 L370.03,1072.8 L371.39,1072.5 L372.75,1072.2 L374.12,1072.0 L375.48,1071.9 L376.85,1071.9 L378.21,1072.1 L379.57,1072.3 L380.94,1072.6 L382.30,1072.9 L383.67,1073.2 L385.03,1073.4 L386.39,1073.7 L387.76,1073.9 L389.12,1074.1 L390.48,1074.3 L391.85,1074.3 L393.21,1074.4 L394.58,1074.4 L395.94,1074.3 L397.30,1074.2 L398.67,1074.1 L400.03,1074.0 L401.39,1073.8 L402.76,1073.7 L404.12,1073.5 L405.49,1073.4 L406.85,1073.3 L408.21,1073.1 L409.58,1073.0 L410.94,1072.9 L412.31,1072.8 L413.67,1072.7 L415.03,1072.6 L416.40,1072.6 L417.76,1072.6 L419.12,1072.6 L420.49,1072.7 L421.85,1072.7 L423.22,1072.8 L424.58,1072.9 L425.94,1073.0 L427.31,1073.1 L428.67,1073.3 L430.03,1073.4 L431.40,1073.6 L432.76,1073.7 L434.13,1073.9 L435.49,1074.1 L436.85,1074.3 L438.22,1074.5 L439.58,1074.7 L440.95,1074.8 L442.31,1075.0 L443.67,1075.2 L445.04,1075.4 L446.40,1075.6 L447.76,1075.8 L449.13,1076.0 L450.49,1076.2 L451.86,1076.3 L453.22,1076.5 L454.58,1076.6 L455.95,1076.8 L457.31,1077.0 L458.68,1077.1 L460.04,1077.3 L461.40,1077.5 L462.77,1077.7 L464.13,1077.9 L465.49,1078.0 L466.86,1078.2 L468.22,1078.4 L469.59,1078.6 L470.95,1078.8 L472.31,1079.0 L473.68,1079.2 L475.04,1079.4 L476.40,1079.6 L477.77,1079.8 L479.13,1080.0 L480.50,1080.2 L481.86,1080.3 L483.22,1080.5 L484.59,1080.7 L485.95,1080.8 L487.32,1081.0 L488.68,1081.1 L490.04,1081.2 L491.41,1081.4 L492.77,1081.5 L494.13,1081.6 L495.50,1081.7 L496.86,1081.7 L498.23,1081.8 L499.59,1081.8 L500.95,1081.9 L502.32,1081.9 L503.68,1081.9 L505.05,1081.9 L506.41,1081.9 L507.77,1081.9 L509.14,1081.8 L510.50,1081.8 L511.86,1081.7 L513.23,1081.6 L514.59,1081.5 L515.96,1081.4 L517.32,1081.3 L518.68,1081.2 L520.05,1081.1 L521.41,1080.9 L522.77,1080.8 L524.14,1080.6 L525.50,1080.5 L526.87,1080.3 L528.23,1080.2 L529.59,1080.0 L530.96,1079.8 L532.32,1079.6 L533.69,1079.5 L535.05,1079.3 L536.41,1079.0 L537.78,1078.8 L539.14,1078.5 L540.50,1078.1 L541.87,1077.8 L543.23,1077.4 L544.60,1077.0 L545.96,1076.5 L547.32,1076.1 L548.69,1075.6 L550.05,1075.1 L551.42,1074.5 L552.78,1074.0 L554.14,1073.4 L555.51,1072.7 L556.87,1071.8 L558.23,1070.7 L559.60,1069.5 L560.96,1068.2 L562.33,1067.0 L563.69,1065.8 L565.05,1064.7 L566.42,1063.9 L567.78,1063.3 L569.14,1062.8 L570.51,1062.4 L571.87,1062.0 L573.24,1061.7 L574.60,1061.5 L575.96,1061.5 L577.33,1061.5 L578.69,1061.7 L580.06,1061.9 L581.42,1062.1 L582.78,1062.4 L584.15,1062.8 L585.51,1063.2 L586.87,1063.6 L588.24,1064.1 L589.60,1064.5 L590.97,1065.0 L592.33,1065.5 L593.69,1065.9 L595.06,1066.3 L596.42,1066.7 L597.79,1067.1 L599.15,1067.4 L600.51,1067.8 L601.88,1068.2 L603.24,1068.7 L604.60,1069.1 L605.97,1069.5 L607.33,1069.9 L608.70,1070.3 L610.06,1070.7 L611.42,1071.1 L612.79,1071.5 L614.15,1071.9 L615.51,1072.2 L616.88,1072.6 L618.24,1072.9 L619.61,1073.3 L620.97,1073.6 L622.33,1074.0 L623.70,1074.3 L625.06,1074.6 L626.43,1074.9 L627.79,1075.1 L629.15,1075.2 L630.52,1075.2 L631.88,1075.2 L633.24,1075.0 L634.61,1074.7 L635.97,1074.2 L637.34,1073.7 L638.70,1073.1 L640.06,1072.5 L641.43,1072.0 L642.79,1071.5 L644.15,1071.0 L645.52,1070.6 L646.88,1070.1 L648.25,1069.6 L649.61,1069.1 L650.97,1068.8 L652.34,1068.5 L653.70,1068.4 L655.07,1068.5 L656.43,1068.6 L657.79,1068.8 L659.16,1069.1 L660.52,1069.3 L661.88,1069.6 L663.25,1069.9 L664.61,1070.1 L665.98,1070.4 L667.34,1070.7 L668.70,1071.0 L670.07,1071.4 L671.43,1071.7 L672.80,1072.0 L674.16,1072.4 L675.52,1072.7 L676.89,1073.0 L678.25,1073.2 L679.61,1073.5 L680.98,1073.8 L682.34,1074.0 L683.71,1074.2 L685.07,1074.5 L686.43,1074.7 L687.80,1075.0 L689.16,1075.2 L690.52,1075.5 L691.89,1075.7 L693.25,1075.9 L694.62,1076.1 L695.98,1076.3 L697.34,1076.5 L698.71,1076.7 L700.07,1076.9 L701.44,1077.1 L702.80,1077.3 L704.16,1077.4 L705.53,1077.6 L706.89,1077.7 L708.25,1077.8 L709.62,1078.0 L710.98,1078.1 L712.35,1078.2 L713.71,1078.4 L715.07,1078.5 L716.44,1078.7 L717.80,1078.9 L719.17,1079.0 L720.53,1079.2 L721.89,1079.3 L723.26,1079.5 L724.62,1079.7 L725.98,1079.8 L727.35,1080.0 L728.71,1080.2 L730.08,1080.3 L731.44,1080.5 L732.80,1080.7 L734.17,1080.8 L735.53,1081.0 L736.89,1081.1 L738.26,1081.2 L739.62,1081.4 L740.99,1081.5 L742.35,1081.6 L743.71,1081.7 L745.08,1081.9 L746.44,1082.0 L747.81,1082.0 L749.17,1082.1 L750.53,1082.2 L751.90,1082.3 L753.26,1082.3 L754.62,1082.4 L755.99,1082.4 L757.35,1082.4 L758.72,1082.4 L760.08,1082.4 L761.44,1082.3 L762.81,1082.2 L764.17,1082.1 L765.54,1082.0 L766.90,1081.9 L768.26,1081.7 L769.63,1081.5 L770.99,1081.3 L772.35,1081.1 L773.72,1080.9 L775.08,1080.7 L776.45,1080.4 L777.81,1080.2 L779.17,1080.0 L780.54,1079.7 L781.90,1079.5 L783.26,1079.3 L784.63,1079.1 L785.99,1078.9 L787.36,1078.7 L788.72,1078.5 L790.08,1078.3 L791.45,1078.2 L792.81,1078.1 L794.18,1078.0 L795.54,1077.9 L796.90,1077.9 L798.27,1077.8 L799.63,1077.8 L800.99,1077.8 L802.36,1077.8 L803.72,1077.7 L805.09,1077.7 L806.45,1077.6 L807.81,1077.6 L809.18,1077.5 L810.54,1077.3 L811.91,1077.0 L813.27,1076.4 L814.63,1075.8 L816.00,1075.0 L817.36,1074.1 L818.72,1072.9 L820.09,1071.4 L821.45,1069.5 L822.82,1067.2 L824.18,1064.3 L825.54,1060.7 L826.91,1056.0 L828.27,1049.7 L829.63,1041.9 L831.00,1031.1 L832.36,1015.6 L833.73,998.9 L835.09,983.3 L836.45,967.3 L837.82,953.0 L839.18,941.4 L840.55,931.3 L841.91,923.0 L843.36,923.0 L844.73,930.4 L846.09,939.5 L847.46,949.9 L848.82,962.4 L850.19,977.1 L851.56,992.1 L852.92,1006.7 L854.29,1021.7 L855.65,1034.8 L857.02,1044.4 L858.38,1052.4 L859.75,1058.7 L861.11,1063.1 L862.48,1066.7 L863.84,1069.4 L865.21,1071.2 L866.57,1072.5 L867.94,1073.6 L869.30,1074.6 L870.67,1075.4 L872.03,1076.0 L873.40,1076.6 L874.76,1077.0 L876.13,1077.3 L877.50,1077.6 L878.86,1077.9 L880.23,1078.1 L881.59,1078.3 L882.96,1078.5 L884.32,1078.7 L885.69,1078.9 L887.05,1079.0 L888.42,1079.2 L889.78,1079.4 L891.15,1079.6 L892.51,1079.8 L893.88,1080.1 L895.24,1080.4 L896.61,1080.7 L897.97,1081.0 L899.34,1081.3 L900.70,1081.6 L902.07,1081.7 L903.44,1081.8 L904.80,1081.7 L906.17,1081.3 L907.53,1080.7 L908.90,1079.9 L910.26,1079.0 L911.63,1078.1 L912.99,1077.2 L914.36,1076.4 L915.72,1075.7 L917.09,1075.1 L918.45,1074.7 L919.82,1074.3 L921.18,1073.9 L922.55,1073.5 L923.91,1073.1 L925.28,1072.7 L926.64,1072.5 L928.01,1072.2 L929.38,1072.1 L930.74,1071.9 L932.11,1071.9 L933.47,1071.8 L934.84,1071.8 L936.20,1071.8 L937.57,1071.9 L938.93,1072.0 L940.30,1072.1 L941.66,1072.2 L943.03,1072.3 L944.39,1072.4 L945.76,1072.6 L947.12,1072.8 L948.49,1073.1 L949.85,1073.3 L951.22,1073.6 L952.58,1073.9 L953.95,1074.1 L955.32,1074.2 L956.68,1074.3 L958.05,1074.4 L959.41,1074.4 L960.78,1074.4 L962.14,1074.4 L963.51,1074.4 L964.87,1074.4 L966.24,1074.3 L967.60,1074.2 L968.97,1074.1 L970.33,1073.9 L971.70,1073.7 L973.06,1073.4 L974.43,1073.1 L975.79,1072.8 L977.16,1072.4 L978.53,1072.0 L979.89,1071.6 L981.26,1071.1 L982.62,1070.5 L983.99,1070.0 L985.35,1069.4 L986.72,1068.7 L988.08,1067.9 L989.45,1067.1 L990.81,1066.2 L992.18,1065.3 L993.54,1064.2 L994.91,1063.2 L996.27,1062.0 L997.64,1060.5 L999.00,1058.6 L1000.37,1056.3 L1001.73,1054.0 L1003.10,1051.8 L1004.47,1049.8 L1005.83,1048.1 L1007.20,1046.3 L1008.56,1044.4 L1009.93,1042.5 L1011.29,1040.5 L1012.66,1038.4 L1014.02,1036.2 L1015.39,1033.9 L1016.75,1031.3 L1018.12,1028.5 L1019.48,1025.3 L1020.85,1021.9 L1022.21,1018.0 L1023.58,1013.6 L1024.94,1009.6 L1026.31,1006.2 L1027.67,1002.8 L1029.04,998.7 L1030.40,994.0 L1031.77,989.0 L1033.13,984.4 L1034.50,979.9 L1035.86,975.6 L1037.23,971.2 L1038.59,966.8 L1039.96,962.5 L1041.32,958.5 L1042.69,954.6 L1044.05,951.0 L1045.41,947.7 L1046.78,944.7 L1048.14,941.9 L1049.50,939.3 L1050.87,937.0 L1052.23,935.2 L1053.59,933.5 L1054.95,931.9 L1056.31,930.4 L1057.67,929.2 L1059.03,928.2 L1060.39,927.4 L1061.75,926.7 L1063.11,926.0 L1064.46,925.3 L1065.82,924.8 L1067.17,924.3 L1068.52,924.1 L1069.87,923.8 L1071.22,923.6 L1072.57,923.3 L1073.91,923.1 L1075.25,922.9 L1076.59,922.7 L1077.93,922.4 L1079.27,922.2 L1080.60,921.9 L1081.93,921.6 L1083.25,921.3 L1084.57,920.9 L1085.89,920.5 L1087.20,920.0 L1088.51,919.5 L1089.82,919.0 L1091.12,918.2 L1092.42,917.2 L1093.71,915.9 L1094.99,914.4 L1096.28,912.8 L1097.56,911.2 L1098.83,909.7 L1100.10,908.2 L1101.36,906.8 L1102.62,905.3 L1103.87,903.8 L1105.12,902.2 L1106.37,900.5 L1107.61,898.6 L1108.85,896.6 L1110.09,894.7 L1111.32,892.9 L1112.55,891.1 L1113.78,889.0 L1115.01,886.5 L1116.24,883.6 L1117.46,880.3 L1118.69,876.8 L1119.92,872.9 L1121.15,868.6 L1122.39,864.1 L1123.62,859.1 L1124.86,853.9 L1126.11,848.5 L1127.36,842.7 L1128.62,836.5 L1129.88,830.0 L1131.15,823.3 L1132.43,815.9 L1133.72,807.3 L1135.01,798.9 L1136.32,792.4 L1137.64,787.8 L1138.96,783.6 L1140.30,780.0 L1141.64,777.3 L1143.00,775.7 L1143.73,775.7 L1145.10,782.7 L1146.48,789.8 L1147.88,797.2 L1149.28,804.5 L1150.70,812.2 L1152.12,821.4 L1153.55,832.8 L1155.00,845.7 L1156.45,858.6 L1157.91,871.9 L1159.37,885.4 L1160.84,898.5 L1162.32,911.6 L1163.81,924.2 L1165.30,935.3 L1166.79,945.3 L1168.28,954.5 L1169.78,963.1 L1171.28,971.4 L1172.79,979.2 L1174.29,985.7 L1175.79,991.2 L1177.29,996.2 L1178.79,1000.8 L1180.29,1005.5 L1181.79,1010.5 L1183.28,1015.1 L1184.77,1018.9 L1186.26,1021.8 L1187.74,1024.4 L1189.22,1027.0 L1190.70,1030.0 L1192.17,1033.2 L1193.63,1036.1 L1195.10,1038.6 L1196.55,1041.0 L1198.01,1043.2 L1199.45,1045.3 L1200.90,1047.3 L1202.33,1049.3 L1203.77,1051.1 L1205.20,1052.9 L1206.62,1054.6 L1208.04,1056.1 L1209.46,1057.6 L1210.87,1059.0 L1212.28,1060.3 L1213.68,1061.6 L1215.08,1062.8 L1216.48,1063.8 L1217.88,1064.7 L1219.27,1065.6 L1220.66,1066.6 L1222.05,1067.6 L1223.43,1068.7 L1224.82,1069.7 L1226.20,1070.5 L1227.58,1071.2 L1228.96,1071.6 L1230.33,1072.0 L1231.71,1072.3 L1233.08,1072.6 L1234.46,1072.8 L1235.83,1073.0 L1237.20,1073.2 L1238.57,1073.3 L1239.94,1073.3 L1241.31,1073.4 L1242.68,1073.4 L1244.04,1073.4 L1245.41,1073.4 L1246.78,1073.4 L1248.14,1073.4 L1249.51,1073.3 L1250.88,1073.3 L1252.24,1073.2 L1253.61,1073.1 L1254.97,1073.1 L1256.34,1073.0 L1257.70,1072.9 L1259.07,1072.7 L1260.43,1072.6 L1261.80,1072.4 L1263.16,1072.2 L1264.53,1072.0 L1265.89,1071.8 L1267.26,1071.7 L1268.62,1071.5 L1269.99,1071.3 L1271.35,1071.1 L1272.72,1070.9 L1274.08,1070.7 L1275.45,1070.4 L1276.81,1070.0 L1278.18,1069.4 L1279.54,1068.8 L1280.91,1068.1 L1282.27,1067.4 L1283.63,1066.7 L1285.00,1065.9 L1286.36,1065.2 L1287.73,1064.4 L1289.09,1063.6 L1290.46,1062.7 L1291.82,1061.8 L1293.19,1060.8 L1294.55,1059.9 L1295.92,1058.8 L1297.28,1057.7 L1298.64,1056.6 L1300.01,1055.3 L1301.37,1054.0 L1302.74,1052.6 L1304.10,1051.2 L1305.47,1049.4 L1306.83,1047.6 L1308.20,1045.7 L1309.56,1044.1 L1310.93,1042.8 L1312.29,1041.6 L1313.65,1040.5 L1315.02,1039.4 L1316.38,1038.3 L1317.75,1037.1 L1319.11,1035.9 L1320.48,1034.7 L1321.84,1033.6 L1323.21,1032.8 L1324.57,1032.3 L1325.93,1031.8 L1327.30,1031.4 L1328.66,1030.9 L1330.03,1030.5 L1331.39,1030.3 L1332.75,1030.3 L1334.12,1030.5 L1335.48,1030.7 L1336.85,1031.0 L1338.21,1031.3 L1339.57,1031.8 L1340.94,1032.2 L1342.30,1032.3 L1343.66,1031.8 L1345.02,1030.9 L1346.39,1029.6 L1347.75,1028.0 L1349.11,1026.1 L1350.47,1024.0 L1351.83,1021.4 L1353.19,1018.4 L1354.55,1014.8 L1355.91,1011.2 L1357.26,1008.5 L1358.62,1007.3 L1359.98,1006.7 L1361.33,1006.2 L1362.68,1005.7 L1364.03,1005.1 L1365.38,1004.6 L1366.73,1004.2 L1368.08,1003.7 L1369.43,1003.1 L1370.77,1001.9 L1372.11,1000.0 L1373.45,997.7 L1374.79,994.9 L1376.13,991.4 L1377.46,987.0 L1378.79,981.1 L1380.12,976.3 L1381.45,972.4 L1382.78,968.3 L1384.10,963.3 L1385.42,957.8 L1386.74,951.6 L1388.06,945.0 L1389.37,938.5 L1390.69,931.9 L1392.00,925.3 L1393.31,918.8 L1394.62,912.4 L1395.93,906.6 L1397.24,901.5 L1398.55,896.2 L1399.86,890.7 L1401.17,883.8 L1402.48,874.9 L1403.79,864.2 L1405.10,852.2 L1406.42,839.0 L1407.73,824.9 L1409.05,808.2 L1410.38,789.3 L1411.70,770.4 L1413.03,752.4 L1414.36,734.0 L1415.70,716.6 L1417.04,701.8 L1418.39,688.9 L1419.74,677.0 L1421.09,666.5 L1422.45,657.7 L1423.55,657.7 L1424.91,669.7 L1426.29,682.6 L1427.67,696.4 L1429.05,711.0 L1430.44,726.8 L1431.83,743.5 L1433.23,761.0 L1434.63,779.5 L1436.03,799.7 L1437.44,819.7 L1438.85,837.9 L1440.26,856.4 L1441.67,873.6 L1443.09,887.4 L1444.51,896.4 L1445.93,902.6 L1447.35,907.8 L1448.77,913.3 L1450.19,920.8 L1451.61,930.2 L1453.03,938.2 L1454.44,945.0 L1455.86,951.6 L1457.28,958.7 L1458.69,965.8 L1460.11,971.7 L1461.52,976.9 L1462.93,981.6 L1464.34,985.6 L1465.74,989.1 L1467.15,992.3 L1468.55,995.3 L1469.95,998.2 L1471.35,1001.1 L1472.74,1003.8 L1474.14,1006.2 L1475.53,1008.3 L1476.92,1010.1 L1478.30,1011.7 L1479.69,1013.3 L1481.07,1014.8 L1482.45,1016.4 L1483.83,1018.0 L1485.21,1019.6 L1486.59,1021.1 L1487.97,1022.6 L1489.34,1024.1 L1490.72,1025.5 L1492.09,1027.0 L1493.46,1028.6 L1494.83,1030.4 L1496.20,1032.3 L1497.57,1034.1 L1498.94,1035.9 L1500.31,1037.6 L1501.68,1039.4 L1503.04,1041.2 L1504.41,1042.7 L1505.78,1043.3 L1507.15,1043.3 L1508.51,1043.2 L1509.88,1042.9 L1511.24,1042.6 L1512.61,1042.1 L1513.97,1041.0 L1515.34,1039.1 L1516.71,1036.9 L1518.07,1034.7 L1519.44,1031.8 L1520.80,1028.8 L1522.17,1026.1 L1523.53,1023.6 L1524.90,1021.5 L1526.26,1020.0 L1527.63,1018.7 L1528.99,1018.0 L1530.36,1018.2 L1531.72,1018.5 L1533.08,1019.0 L1534.45,1019.4 L1535.81,1019.9 L1537.18,1020.4 L1538.54,1020.8 L1539.91,1021.2 L1541.27,1021.7 L1542.64,1022.1 L1544.00,1022.4 L1545.37,1022.4 L1546.73,1022.5 L1548.10,1022.5 L1549.46,1022.5 L1550.83,1022.5 L1552.19,1022.6 L1553.56,1022.8 L1554.92,1023.7 L1556.29,1025.1 L1557.65,1026.5 L1559.01,1027.7 L1560.38,1029.0 L1561.74,1030.2 L1563.11,1031.3 L1564.47,1032.0 L1565.84,1032.3 L1567.20,1032.6 L1568.57,1033.0 L1569.93,1033.3 L1571.30,1033.5 L1572.66,1033.7 L1574.03,1034.0 L1575.39,1034.3 L1576.76,1034.5 L1578.12,1034.7 L1579.49,1035.0 L1580.85,1036.4 L1582.21,1038.5 L1583.58,1040.8 L1584.94,1043.8 L1586.31,1047.1 L1587.67,1050.0 L1589.04,1052.8 L1590.40,1055.3 L1591.77,1057.1 L1593.13,1058.6 L1594.50,1059.9 L1595.86,1061.0 L1597.23,1062.0 L1598.59,1063.0 L1599.96,1063.9 L1601.32,1064.8 L1602.69,1065.7 L1604.05,1066.7 L1605.41,1067.5 L1606.78,1068.4 L1608.14,1069.2 L1609.51,1069.9 L1610.87,1070.4 L1612.24,1071.0 L1613.60,1071.5 L1614.97,1071.9 L1616.33,1072.3 L1617.70,1072.7 L1619.06,1073.0 L1620.43,1073.4 L1621.79,1073.7 L1623.16,1074.0 L1624.52,1074.3 L1625.89,1074.5 L1627.25,1074.8 L1628.61,1075.0 L1629.98,1075.3 L1631.34,1075.5 L1632.71,1075.8 L1634.07,1076.0 L1635.44,1076.2 L1636.80,1076.5 L1638.17,1076.7 L1639.53,1076.9 L1640.90,1077.1 L1642.26,1077.3 L1643.63,1077.5 L1644.99,1077.7 L1646.36,1077.9 L1647.72,1078.1 L1649.09,1078.3 L1650.45,1078.4 L1651.81,1078.6 L1653.18,1078.7 L1654.54,1078.9 L1655.91,1079.0"/>
<path d="M172.27,1199.2 L173.64,1199.2 L175.00,1199.2 L176.36,1199.2 L177.73,1199.2 L179.09,1199.2 L180.46,1199.2 L181.82,1199.2 L183.18,1199.2 L184.55,1199.2 L185.91,1199.2 L187.27,1199.2 L188.64,1199.2 L190.00,1199.2 L191.37,1199.2 L192.73,1199.2 L194.09,1199.2 L195.46,1199.1 L196.82,1199.1 L198.19,1199.1 L199.55,1199.1 L200.91,1199.1 L202.28,1199.1 L203.64,1199.1 L205.00,1199.1 L206.37,1199.1 L207.73,1199.1 L209.10,1199.1 L210.46,1199.1 L211.82,1199.1 L213.19,1199.0 L214.55,1199.0 L215.92,1199.0 L217.28,1199.0 L218.64,1199.0 L220.01,1199.0 L221.37,1199.0 L222.73,1199.0 L224.10,1199.0 L225.46,1198.9 L226.83,1198.9 L228.19,1198.9 L229.55,1198.9 L230.92,1198.9 L232.28,1198.9 L233.64,1198.9 L235.01,1198.8 L236.37,1198.8 L237.74,1198.8 L239.10,1198.8 L240.46,1198.8 L241.83,1198.8 L243.19,1198.7 L244.56,1198.7 L245.92,1198.7 L247.28,1198.6 L248.65,1198.5 L250.01,1198.4 L251.37,1198.3 L252.74,1198.2 L254.10,1198.1 L255.47,1198.0 L256.83,1197.8 L258.19,1197.7 L259.56,1197.5 L260.92,1197.4 L262.28,1197.2 L263.65,1197.0 L265.01,1196.8 L266.38,1196.7 L267.74,1196.5 L269.10,1196.3 L270.47,1196.1 L271.83,1195.9 L273.20,1195.8 L274.56,1195.6 L275.92,1195.5 L277.29,1195.3 L278.65,1195.2 L280.01,1195.1 L281.38,1195.0 L282.74,1194.9 L284.11,1194.7 L285.47,1194.6 L286.83,1194.5 L288.20,1194.3 L289.56,1194.2 L290.93,1194.0 L292.29,1193.9 L293.65,1193.7 L295.02,1193.5 L296.38,1193.3 L297.74,1193.0 L299.11,1192.8 L300.47,1192.6 L301.84,1192.3 L303.20,1192.1 L304.56,1191.9 L305.93,1191.6 L307.29,1191.4 L308.65,1191.1 L310.02,1190.9 L311.38,1190.7 L312.75,1190.4 L314.11,1190.1 L315.47,1189.9 L316.84,1189.6 L318.20,1189.3 L319.57,1189.0 L320.93,1188.7 L322.29,1188.4 L323.66,1188.2 L325.02,1187.9 L326.38,1187.7 L327.75,1187.5 L329.11,1187.4 L330.48,1187.3 L331.84,1187.2 L333.20,1187.1 L334.57,1187.0 L335.93,1186.9 L337.30,1186.8 L338.66,1186.8 L340.02,1186.7 L341.39,1186.6 L342.75,1186.5 L344.11,1186.5 L345.48,1186.4 L346.84,1186.3 L348.21,1186.2 L349.57,1186.1 L350.93,1186.0 L352.30,1185.9 L353.66,1185.9 L355.02,1185.9 L356.39,1185.9 L357.75,1185.9 L359.12,1185.9 L360.48,1185.8 L361.84,1185.5 L363.21,1185.1 L364.57,1184.5 L365.94,1183.9 L367.30,1183.2 L368.66,1182.6 L370.03,1182.0 L371.39,1181.5 L372.75,1181.2 L374.12,1181.1 L375.48,1181.3 L376.85,1181.6 L378.21,1182.1 L379.57,1182.6 L380.94,1183.2 L382.30,1183.8 L383.67,1184.4 L385.03,1185.1 L386.39,1185.6 L387.76,1186.2 L389.12,1186.6 L390.48,1186.9 L391.85,1187.1 L393.21,1187.3 L394.58,1187.5 L395.94,1187.6 L397.30,1187.7 L398.67,1187.8 L400.03,1187.9 L401.39,1188.0 L402.76,1188.1 L404.12,1188.2 L405.49,1188.2 L406.85,1188.3 L408.21,1188.4 L409.58,1188.4 L410.94,1188.5 L412.31,1188.6 L413.67,1188.6 L415.03,1188.7 L416.40,1188.7 L417.76,1188.8 L419.12,1188.9 L420.49,1188.9 L421.85,1189.0 L423.22,1189.1 L424.58,1189.2 L425.94,1189.3 L427.31,1189.4 L428.67,1189.5 L430.03,1189.6 L431.40,1189.7 L432.76,1189.9 L434.13,1190.1 L435.49,1190.2 L436.85,1190.4 L438.22,1190.6 L439.58,1190.8 L440.95,1191.0 L442.31,1191.2 L443.67,1191.5 L445.04,1191.7 L446.40,1191.9 L447.76,1192.1 L449.13,1192.3 L450.49,1192.6 L451.86,1192.8 L453.22,1193.0 L454.58,1193.2 L455.95,1193.4 L457.31,1193.6 L458.68,1193.8 L460.04,1193.9 L461.40,1194.1 L462.77,1194.2 L464.13,1194.4 L465.49,1194.5 L466.86,1194.6 L468.22,1194.7 L469.59,1194.7 L470.95,1194.8 L472.31,1194.9 L473.68,1195.0 L475.04,1195.0 L476.40,1195.1 L477.77,1195.2 L479.13,1195.3 L480.50,1195.3 L481.86,1195.4 L483.22,1195.5 L484.59,1195.5 L485.95,1195.6 L487.32,1195.7 L488.68,1195.7 L490.04,1195.8 L491.41,1195.8 L492.77,1195.9 L494.13,1196.0 L495.50,1196.0 L496.86,1196.1 L498.23,1196.1 L499.59,1196.1 L500.95,1196.2 L502.32,1196.2 L503.68,1196.2 L505.05,1196.3 L506.41,1196.3 L507.77,1196.3 L509.14,1196.3 L510.50,1196.2 L511.86,1196.2 L513.23,1196.1 L514.59,1196.0 L515.96,1195.8 L517.32,1195.6 L518.68,1195.4 L520.05,1195.2 L521.41,1195.0 L522.77,1194.8 L524.14,1194.5 L525.50,1194.3 L526.87,1194.0 L528.23,1193.8 L529.59,1193.5 L530.96,1193.2 L532.32,1192.9 L533.69,1192.6 L535.05,1192.4 L536.41,1192.1 L537.78,1191.9 L539.14,1191.6 L540.50,1191.3 L541.87,1191.0 L543.23,1190.7 L544.60,1190.3 L545.96,1189.9 L547.32,1189.5 L548.69,1189.0 L550.05,1188.6 L551.42,1188.2 L552.78,1187.7 L554.14,1187.3 L555.51,1186.9 L556.87,1186.4 L558.23,1186.1 L559.60,1185.7 L560.96,1185.3 L562.33,1185.0 L563.69,1184.8 L565.05,1184.5 L566.42,1184.3 L567.78,1184.2 L569.14,1184.1 L570.51,1184.1 L571.87,1184.1 L573.24,1184.1 L574.60,1184.2 L575.96,1184.2 L577.33,1184.3 L578.69,1184.3 L580.06,1184.3 L581.42,1184.4 L582.78,1184.4 L584.15,1184.5 L585.51,1184.5 L586.87,1184.6 L588.24,1184.7 L589.60,1184.8 L590.97,1184.8 L592.33,1184.9 L593.69,1185.0 L595.06,1185.1 L596.42,1185.3 L597.79,1185.4 L599.15,1185.6 L600.51,1185.9 L601.88,1186.3 L603.24,1186.7 L604.60,1187.1 L605.97,1187.5 L607.33,1188.0 L608.70,1188.5 L610.06,1188.9 L611.42,1189.3 L612.79,1189.7 L614.15,1190.1 L615.51,1190.4 L616.88,1190.7 L618.24,1191.0 L619.61,1191.3 L620.97,1191.6 L622.33,1191.9 L623.70,1192.2 L625.06,1192.4 L626.43,1192.6 L627.79,1192.7 L629.15,1192.8 L630.52,1192.8 L631.88,1192.8 L633.24,1192.6 L634.61,1192.3 L635.97,1191.8 L637.34,1191.3 L638.70,1190.7 L640.06,1190.2 L641.43,1189.6 L642.79,1189.1 L644.15,1188.7 L645.52,1188.3 L646.88,1187.8 L648.25,1187.4 L649.61,1186.9 L650.97,1186.6 L652.34,1186.4 L653.70,1186.3 L655.07,1186.4 L656.43,1186.5 L657.79,1186.7 L659.16,1187.0 L660.52,1187.2 L661.88,1187.5 L663.25,1187.7 L664.61,1187.9 L665.98,1188.2 L667.34,1188.5 L668.70,1188.8 L670.07,1189.1 L671.43,1189.4 L672.80,1189.7 L674.16,1190.0 L675.52,1190.2 L676.89,1190.5 L678.25,1190.7 L679.61,1191.0 L680.98,1191.2 L682.34,1191.4 L683.71,1191.6 L685.07,1191.8 L686.43,1192.0 L687.80,1192.1 L689.16,1192.3 L690.52,1192.5 L691.89,1192.7 L693.25,1192.8 L694.62,1193.0 L695.98,1193.2 L697.34,1193.3 L698.71,1193.4 L700.07,1193.6 L701.44,1193.7 L702.80,1193.8 L704.16,1193.9 L705.53,1194.0 L706.89,1194.1 L708.25,1194.1 L709.62,1194.2 L710.98,1194.3 L712.35,1194.4 L713.71,1194.5 L715.07,1194.6 L716.44,1194.7 L717.80,1194.8 L719.17,1195.0 L720.53,1195.1 L721.89,1195.2 L723.26,1195.3 L724.62,1195.5 L725.98,1195.6 L727.35,1195.8 L728.71,1195.9 L730.08,1196.1 L731.44,1196.2 L732.80,1196.3 L734.17,1196.5 L735.53,1196.6 L736.89,1196.8 L738.26,1196.9 L739.62,1197.0 L740.99,1197.1 L742.35,1197.2 L743.71,1197.4 L745.08,1197.5 L746.44,1197.6 L747.81,1197.6 L749.17,1197.7 L750.53,1197.8 L751.90,1197.9 L753.26,1197.9 L754.62,1198.0 L755.99,1198.0 L757.35,1198.0 L758.72,1198.0 L760.08,1198.0 L761.44,1197.9 L762.81,1197.9 L764.17,1197.8 L765.54,1197.7 L766.90,1197.6 L768.26,1197.4 L769.63,1197.3 L770.99,1197.1 L772.35,1196.9 L773.72,1196.7 L775.08,1196.6 L776.45,1196.4 L777.81,1196.2 L779.17,1196.0 L780.54,1195.8 L781.90,1195.6 L783.26,1195.4 L784.63,1195.2 L785.99,1195.0 L787.36,1194.8 L788.72,1194.7 L790.08,1194.5 L791.45,1194.4 L792.81,1194.3 L794.18,1194.2 L795.54,1194.1 L796.90,1194.0 L798.27,1193.9 L799.63,1193.7 L800.99,1193.6 L802.36,1193.5 L803.72,1193.3 L805.09,1193.1 L806.45,1192.9 L807.81,1192.7 L809.18,1192.5 L810.54,1192.1 L811.91,1191.6 L813.27,1190.8 L814.63,1189.9 L816.00,1188.9 L817.36,1187.8 L818.72,1186.4 L820.09,1184.6 L821.45,1182.5 L822.82,1179.9 L824.18,1176.7 L825.54,1172.9 L826.91,1167.9 L828.27,1161.3 L829.63,1153.0 L831.00,1141.8 L832.36,1125.7 L833.73,1108.4 L835.09,1092.2 L836.45,1075.7 L837.82,1060.9 L839.18,1048.9 L840.55,1038.5 L841.91,1029.9 L843.36,1029.9 L844.73,1037.5 L846.09,1046.9 L847.46,1057.7 L848.82,1070.6 L850.19,1085.9 L851.56,1101.4 L852.92,1116.5 L854.29,1132.1 L855.65,1145.8 L857.02,1155.9 L858.38,1164.3 L859.75,1171.0 L861.11,1175.7 L862.48,1179.5 L863.84,1182.6 L865.21,1184.6 L866.57,1186.1 L867.94,1187.4 L869.30,1188.6 L870.67,1189.6 L872.03,1190.4 L873.40,1191.1 L874.76,1191.7 L876.13,1192.2 L877.50,1192.7 L878.86,1193.0 L880.23,1193.4 L881.59,1193.7 L882.96,1194.0 L884.32,1194.3 L885.69,1194.5 L887.05,1194.7 L888.42,1194.9 L889.78,1195.1 L891.15,1195.3 L892.51,1195.4 L893.88,1195.5 L895.24,1195.6 L896.61,1195.7 L897.97,1195.8 L899.34,1195.8 L900.70,1195.8 L902.07,1195.8 L903.44,1195.7 L904.80,1195.6 L906.17,1195.3 L907.53,1195.0 L908.90,1194.7 L910.26,1194.3 L911.63,1193.8 L912.99,1193.4 L914.36,1193.0 L915.72,1192.5 L917.09,1192.2 L918.45,1191.8 L919.82,1191.4 L921.18,1190.9 L922.55,1190.5 L923.91,1190.1 L925.28,1189.8 L926.64,1189.5 L928.01,1189.2 L929.38,1189.1 L930.74,1188.9 L932.11,1188.9 L933.47,1188.8 L934.84,1188.8 L936.20,1188.9 L937.57,1188.9 L938.93,1189.0 L940.30,1189.1 L941.66,1189.2 L943.03,1189.3 L944.39,1189.4 L945.76,1189.5 L947.12,1189.6 L948.49,1189.7 L949.85,1189.9 L951.22,1190.0 L952.58,1190.2 L953.95,1190.3 L955.32,1190.4 L956.68,1190.5 L958.05,1190.5 L959.41,1190.5 L960.78,1190.5 L962.14,1190.4 L963.51,1190.3 L964.87,1190.2 L966.24,1190.1 L967.60,1189.9 L968.97,1189.7 L970.33,1189.5 L971.70,1189.3 L973.06,1189.0 L974.43,1188.7 L975.79,1188.3 L977.16,1188.0 L978.53,1187.6 L979.89,1187.2 L981.26,1186.7 L982.62,1186.2 L983.99,1185.7 L985.35,1185.2 L986.72,1184.6 L988.08,1183.9 L989.45,1183.1 L990.81,1182.3 L992.18,1181.4 L993.54,1180.4 L994.91,1179.3 L996.27,1178.2 L997.64,1177.1 L999.00,1175.8 L1000.37,1174.6 L1001.73,1173.3 L1003.10,1171.8 L1004.47,1170.3 L1005.83,1168.6 L1007.20,1166.9 L1008.56,1165.0 L1009.93,1163.1 L1011.29,1161.1 L1012.66,1159.0 L1014.02,1156.7 L1015.39,1154.2 L1016.75,1151.5 L1018.12,1148.5 L1019.48,1145.1 L1020.85,1141.4 L1022.21,1137.1 L1023.58,1132.4 L1024.94,1128.0 L1026.31,1124.3 L1027.67,1120.5 L1029.04,1116.1 L1030.40,1110.9 L1031.77,1105.5 L1033.13,1100.4 L1034.50,1095.5 L1035.86,1090.7 L1037.23,1085.8 L1038.59,1080.9 L1039.96,1076.2 L1041.32,1071.8 L1042.69,1067.5 L1044.05,1063.4 L1045.42,1059.8 L1046.78,1056.4 L1048.14,1053.3 L1049.51,1050.4 L1050.87,1047.9 L1052.24,1045.8 L1053.60,1043.9 L1054.96,1042.1 L1056.32,1040.5 L1057.68,1039.0 L1059.05,1037.9 L1060.41,1037.0 L1061.77,1036.3 L1063.13,1035.6 L1064.48,1034.9 L1065.84,1034.4 L1067.20,1034.0 L1068.55,1033.8 L1069.91,1033.5 L1071.26,1033.3 L1072.61,1033.1 L1073.96,1032.9 L1075.31,1032.7 L1076.66,1032.4 L1078.00,1032.2 L1079.35,1031.9 L1080.69,1031.6 L1082.03,1031.3 L1083.36,1031.0 L1084.70,1030.6 L1086.03,1030.2 L1087.36,1029.8 L1088.68,1029.3 L1090.00,1028.9 L1091.32,1028.2 L1092.64,1027.3 L1093.95,1026.1 L1095.26,1024.7 L1096.57,1023.0 L1097.87,1021.1 L1099.17,1019.3 L1100.46,1017.3 L1101.76,1015.4 L1103.05,1013.6 L1104.33,1011.7 L1105.61,1009.7 L1106.89,1007.5 L1108.17,1005.0 L1109.45,1002.4 L1110.72,999.9 L1111.99,997.5 L1113.26,995.0 L1114.53,992.2 L1115.79,988.9 L1117.06,985.1 L1118.33,980.9 L1119.59,976.5 L1120.86,971.6 L1122.13,966.3 L1123.40,960.6 L1124.67,954.6 L1125.95,948.3 L1127.23,941.7 L1128.51,934.7 L1129.80,927.3 L1131.09,919.7 L1132.39,911.7 L1133.69,903.0 L1135.00,893.1 L1136.32,883.4 L1137.64,875.8 L1138.97,870.4 L1140.31,865.4 L1141.65,861.2 L1143.00,858.0 L1144.36,856.1 L1145.09,856.1 L1146.46,863.8 L1147.84,871.7 L1149.23,879.8 L1150.62,887.7 L1152.02,896.2 L1153.43,906.2 L1154.84,918.7 L1156.26,932.7 L1157.69,946.9 L1159.12,961.3 L1160.56,976.1 L1162.00,990.3 L1163.44,1004.6 L1164.89,1018.2 L1166.35,1030.3 L1167.80,1041.1 L1169.26,1051.1 L1170.72,1060.4 L1172.19,1069.4 L1173.65,1077.8 L1175.11,1084.9 L1176.58,1090.9 L1178.04,1096.3 L1179.50,1101.5 L1180.96,1106.8 L1182.42,1112.4 L1183.88,1118.3 L1185.33,1124.0 L1186.78,1129.1 L1188.23,1133.9 L1189.68,1138.3 L1191.13,1142.4 L1192.57,1145.9 L1194.00,1149.0 L1195.44,1151.8 L1196.87,1154.3 L1198.30,1156.7 L1199.72,1158.9 L1201.14,1161.1 L1202.56,1163.2 L1203.97,1165.2 L1205.38,1167.0 L1206.79,1168.8 L1208.19,1170.4 L1209.60,1172.0 L1210.99,1173.5 L1212.39,1174.9 L1213.78,1176.3 L1215.18,1177.5 L1216.56,1178.7 L1217.95,1179.6 L1219.34,1180.6 L1220.72,1181.6 L1222.10,1182.6 L1223.48,1183.7 L1224.86,1184.6 L1226.23,1185.4 L1227.61,1186.1 L1228.98,1186.5 L1230.36,1186.9 L1231.73,1187.3 L1233.10,1187.7 L1234.47,1188.0 L1235.84,1188.3 L1237.21,1188.5 L1238.58,1188.6 L1239.95,1188.7 L1241.31,1188.8 L1242.68,1188.8 L1244.05,1188.8 L1245.42,1188.8 L1246.78,1188.8 L1248.15,1188.7 L1249.51,1188.6 L1250.88,1188.5 L1252.24,1188.4 L1253.61,1188.3 L1254.98,1188.2 L1256.34,1188.1 L1257.71,1187.9 L1259.07,1187.8 L1260.44,1187.6 L1261.80,1187.4 L1263.17,1187.1 L1264.53,1186.9 L1265.89,1186.7 L1267.26,1186.4 L1268.62,1186.2 L1269.99,1185.9 L1271.35,1185.6 L1272.72,1185.3 L1274.08,1185.0 L1275.45,1184.7 L1276.81,1184.4 L1278.18,1184.0 L1279.54,1183.6 L1280.91,1183.2 L1282.27,1182.7 L1283.63,1182.0 L1285.00,1181.3 L1286.36,1180.5 L1287.73,1179.6 L1289.09,1178.8 L1290.46,1177.9 L1291.82,1177.0 L1293.19,1176.2 L1294.55,1175.3 L1295.92,1174.4 L1297.28,1173.3 L1298.64,1172.2 L1300.01,1170.9 L1301.37,1169.7 L1302.74,1168.3 L1304.10,1166.9 L1305.47,1165.3 L1306.83,1163.6 L1308.20,1161.9 L1309.56,1160.3 L1310.93,1159.0 L1312.29,1157.7 L1313.65,1156.4 L1315.02,1155.3 L1316.38,1154.3 L1317.75,1153.3 L1319.11,1152.2 L1320.48,1151.1 L1321.84,1150.0 L1323.21,1149.1 L1324.57,1148.4 L1325.93,1147.8 L1327.30,1147.2 L1328.66,1146.7 L1330.03,1146.4 L1331.39,1146.4 L1332.75,1146.6 L1334.12,1146.9 L1335.48,1147.0 L1336.85,1147.1 L1338.21,1147.2 L1339.57,1147.7 L1340.93,1148.3 L1342.30,1149.0 L1343.66,1149.3 L1345.02,1149.2 L1346.38,1148.9 L1347.74,1148.4 L1349.10,1147.7 L1350.46,1146.8 L1351.82,1145.2 L1353.18,1143.0 L1354.54,1140.7 L1355.90,1138.4 L1357.25,1135.8 L1358.61,1133.0 L1359.96,1130.8 L1361.31,1129.8 L1362.66,1129.2 L1364.01,1128.8 L1365.36,1128.4 L1366.70,1128.0 L1368.05,1127.6 L1369.39,1126.8 L1370.73,1125.3 L1372.07,1123.0 L1373.40,1120.3 L1374.73,1117.0 L1376.06,1112.9 L1377.39,1107.8 L1378.72,1101.1 L1380.04,1095.5 L1381.36,1090.9 L1382.68,1086.0 L1383.99,1080.2 L1385.30,1073.7 L1386.61,1066.5 L1387.92,1058.9 L1389.23,1051.3 L1390.53,1043.7 L1391.83,1036.1 L1393.13,1028.5 L1394.43,1021.0 L1395.73,1014.3 L1397.02,1008.3 L1398.32,1002.0 L1399.62,995.6 L1400.92,987.7 L1402.22,977.6 L1403.52,965.7 L1404.82,952.3 L1406.12,937.8 L1407.43,922.3 L1408.74,904.1 L1410.05,883.6 L1411.37,863.1 L1412.69,843.6 L1414.02,823.8 L1415.35,805.1 L1416.69,789.1 L1418.03,775.2 L1419.38,762.5 L1420.73,751.3 L1422.09,742.0 L1423.18,742.0 L1424.55,754.7 L1425.93,768.5 L1427.31,783.2 L1428.70,798.8 L1430.09,815.6 L1431.49,833.6 L1432.89,852.3 L1434.30,872.2 L1435.71,893.9 L1437.12,915.3 L1438.54,935.0 L1439.97,954.9 L1441.39,973.5 L1442.82,988.5 L1444.25,998.3 L1445.68,1005.3 L1447.11,1011.1 L1448.54,1017.4 L1449.97,1025.8 L1451.40,1036.1 L1452.83,1045.0 L1454.27,1052.6 L1455.69,1060.0 L1457.12,1068.0 L1458.55,1075.9 L1459.97,1082.6 L1461.39,1088.6 L1462.81,1093.9 L1464.23,1098.6 L1465.65,1102.7 L1467.06,1106.5 L1468.47,1110.1 L1469.87,1113.5 L1471.28,1116.9 L1472.68,1120.2 L1474.08,1123.1 L1475.48,1125.7 L1476.87,1127.9 L1478.26,1129.9 L1479.65,1131.8 L1481.04,1133.6 L1482.42,1135.6 L1483.81,1137.5 L1485.19,1139.4 L1486.57,1141.3 L1487.95,1143.2 L1489.33,1145.0 L1490.70,1146.6 L1492.08,1148.3 L1493.45,1150.0 L1494.82,1151.6 L1496.19,1153.0 L1497.56,1154.3 L1498.93,1155.5 L1500.30,1156.9 L1501.67,1158.4 L1503.04,1159.7 L1504.41,1160.6 L1505.78,1160.9 L1507.14,1160.8 L1508.51,1160.6 L1509.88,1160.2 L1511.24,1159.8 L1512.61,1159.3 L1513.97,1158.0 L1515.34,1156.0 L1516.70,1153.7 L1518.07,1151.2 L1519.44,1148.2 L1520.80,1144.9 L1522.17,1142.0 L1523.53,1139.2 L1524.90,1136.9 L1526.26,1135.2 L1527.63,1133.7 L1528.99,1132.9 L1530.36,1132.9 L1531.72,1133.0 L1533.08,1133.1 L1534.45,1133.2 L1535.81,1133.3 L1537.18,1133.4 L1538.54,1133.6 L1539.91,1133.8 L1541.27,1134.3 L1542.64,1134.8 L1544.00,1135.2 L1545.37,1135.3 L1546.73,1135.5 L1548.10,1135.6 L1549.46,1135.7 L1550.83,1135.8 L1552.19,1136.0 L1553.56,1136.3 L1554.92,1137.3 L1556.29,1138.8 L1557.65,1140.3 L1559.01,1141.6 L1560.38,1142.9 L1561.74,1144.2 L1563.11,1145.3 L1564.47,1146.1 L1565.84,1146.6 L1567.20,1147.1 L1568.57,1147.5 L1569.93,1147.7 L1571.30,1147.6 L1572.66,1147.5 L1574.03,1147.4 L1575.39,1147.3 L1576.76,1147.3 L1578.12,1147.3 L1579.49,1147.5 L1580.85,1149.0 L1582.21,1151.3 L1583.58,1153.8 L1584.94,1157.2 L1586.31,1160.9 L1587.67,1164.2 L1589.04,1167.4 L1590.40,1170.3 L1591.77,1172.5 L1593.13,1174.4 L1594.50,1176.0 L1595.86,1177.4 L1597.23,1178.7 L1598.59,1180.1 L1599.96,1181.4 L1601.32,1182.6 L1602.69,1183.7 L1604.05,1184.6 L1605.41,1185.3 L1606.78,1186.0 L1608.14,1186.6 L1609.51,1187.1 L1610.87,1187.6 L1612.24,1188.0 L1613.60,1188.4 L1614.97,1188.8 L1616.33,1189.1 L1617.70,1189.4 L1619.06,1189.7 L1620.43,1190.0 L1621.79,1190.3 L1623.16,1190.5 L1624.52,1190.8 L1625.89,1191.0 L1627.25,1191.3 L1628.61,1191.5 L1629.98,1191.7 L1631.34,1191.9 L1632.71,1192.2 L1634.07,1192.4 L1635.44,1192.6 L1636.80,1192.8 L1638.17,1193.0 L1639.53,1193.3 L1640.90,1193.5 L1642.26,1193.7 L1643.63,1193.9 L1644.99,1194.1 L1646.36,1194.3 L1647.72,1194.5 L1649.09,1194.6 L1650.45,1194.8 L1651.81,1195.0 L1653.18,1195.2 L1654.54,1195.3 L1655.91,1195.5"/>
<path d="M172.27,1304.4 L173.64,1304.4 L175.00,1304.4 L176.36,1304.5 L177.73,1304.5 L179.09,1304.5 L180.45,1304.5 L181.82,1304.6 L183.18,1304.6 L184.55,1304.6 L185.91,1304.6 L187.27,1304.6 L188.64,1304.6 L190.00,1304.7 L191.36,1304.7 L192.73,1304.7 L194.09,1304.7 L195.45,1304.7 L196.82,1304.7 L198.18,1304.8 L199.55,1304.8 L200.91,1304.8 L202.27,1304.8 L203.64,1304.8 L205.00,1304.8 L206.36,1304.8 L207.73,1304.8 L209.09,1304.8 L210.45,1304.9 L211.82,1304.9 L213.18,1304.9 L214.55,1304.9 L215.91,1304.9 L217.27,1304.9 L218.64,1304.9 L220.00,1304.9 L221.36,1304.9 L222.73,1304.9 L224.09,1304.9 L225.45,1304.9 L226.82,1304.9 L228.18,1304.9 L229.55,1305.0 L230.91,1305.0 L232.27,1305.0 L233.64,1305.0 L235.00,1305.0 L236.36,1305.0 L237.73,1305.0 L239.09,1305.0 L240.45,1305.0 L241.82,1305.0 L243.18,1305.0 L244.55,1305.0 L245.91,1305.0 L247.27,1305.0 L248.64,1305.0 L250.00,1305.0 L251.36,1305.0 L252.73,1305.0 L254.09,1305.0 L255.45,1305.0 L256.82,1305.0 L258.18,1305.0 L259.55,1305.0 L260.91,1305.0 L262.27,1305.0 L263.64,1305.0 L265.00,1305.0 L266.36,1305.0 L267.73,1305.0 L269.09,1305.0 L270.45,1305.0 L271.82,1305.0 L273.18,1305.0 L274.55,1305.0 L275.91,1305.0 L277.27,1305.0 L278.64,1305.0 L280.00,1305.0 L281.36,1305.0 L282.73,1305.0 L284.09,1305.0 L285.45,1304.9 L286.82,1304.9 L288.18,1304.9 L289.55,1304.9 L290.91,1304.9 L292.27,1304.9 L293.64,1304.9 L295.00,1304.9 L296.36,1304.9 L297.73,1304.8 L299.09,1304.8 L300.45,1304.8 L301.82,1304.8 L303.18,1304.8 L304.55,1304.8 L305.91,1304.7 L307.27,1304.7 L308.64,1304.7 L310.00,1304.7 L311.36,1304.7 L312.73,1304.6 L314.09,1304.6 L315.45,1304.6 L316.82,1304.6 L318.18,1304.5 L319.55,1304.5 L320.91,1304.5 L322.27,1304.5 L323.64,1304.4 L325.00,1304.4 L326.36,1304.4 L327.73,1304.4 L329.09,1304.3 L330.45,1304.3 L331.82,1304.3 L333.18,1304.2 L334.55,1304.2 L335.91,1304.2 L337.27,1304.1 L338.64,1304.1 L340.00,1304.1 L341.36,1304.0 L342.73,1304.0 L344.09,1304.0 L345.45,1303.9 L346.82,1303.9 L348.18,1303.8 L349.55,1303.8 L350.91,1303.8 L352.27,1303.7 L353.64,1303.7 L355.00,1303.6 L356.36,1303.6 L357.73,1303.5 L359.09,1303.5 L360.45,1303.5 L361.82,1303.4 L363.18,1303.3 L364.55,1303.2 L365.91,1303.1 L367.27,1303.0 L368.64,1302.8 L370.00,1302.6 L371.36,1302.1 L372.73,1301.3 L374.09,1300.2 L375.45,1299.0 L376.82,1297.8 L378.18,1296.6 L379.55,1295.5 L380.91,1294.6 L382.27,1293.7 L383.64,1292.7 L385.00,1291.7 L386.36,1290.9 L387.73,1290.1 L389.09,1289.6 L390.45,1289.3 L391.82,1289.3 L393.18,1289.5 L394.55,1289.8 L395.91,1290.1 L397.27,1290.4 L398.64,1290.7 L400.00,1290.9 L401.36,1291.0 L402.73,1291.0 L404.09,1290.9 L405.45,1290.8 L406.82,1290.7 L408.18,1290.6 L409.55,1290.4 L410.91,1290.3 L412.27,1290.1 L413.64,1289.9 L415.00,1289.7 L416.36,1289.4 L417.73,1289.2 L419.09,1288.9 L420.45,1288.4 L421.82,1287.9 L423.18,1287.3 L424.55,1286.7 L425.91,1286.0 L427.27,1285.5 L428.64,1284.9 L430.00,1284.5 L431.36,1284.2 L432.73,1284.1 L434.09,1284.1 L435.45,1284.1 L436.82,1284.1 L438.18,1284.1 L439.55,1284.1 L440.91,1284.1 L442.27,1284.1 L443.64,1284.1 L445.00,1284.1 L446.36,1284.1 L447.73,1284.1 L449.09,1284.1 L450.45,1284.3 L451.82,1284.6 L453.18,1285.2 L454.55,1285.9 L455.91,1286.8 L457.27,1287.7 L458.64,1288.7 L460.00,1289.7 L461.36,1290.6 L462.73,1291.6 L464.09,1292.4 L465.45,1293.2 L466.82,1294.0 L468.18,1294.9 L469.55,1295.8 L470.91,1296.8 L472.27,1297.7 L473.64,1298.6 L475.00,1299.4 L476.36,1300.1 L477.73,1300.7 L479.09,1301.2 L480.45,1301.5 L481.82,1301.7 L483.18,1301.9 L484.55,1302.1 L485.91,1302.3 L487.27,1302.5 L488.64,1302.6 L490.00,1302.8 L491.36,1302.9 L492.73,1303.1 L494.09,1303.2 L495.45,1303.3 L496.82,1303.4 L498.18,1303.5 L499.55,1303.6 L500.91,1303.7 L502.27,1303.7 L503.64,1303.8 L505.00,1303.8 L506.36,1303.8 L507.73,1303.8 L509.09,1303.7 L510.45,1303.6 L511.82,1303.4 L513.18,1303.1 L514.55,1302.8 L515.91,1302.4 L517.27,1302.0 L518.64,1301.6 L520.00,1301.1 L521.36,1300.6 L522.73,1300.1 L524.09,1299.6 L525.45,1299.1 L526.82,1298.5 L528.18,1298.0 L529.55,1297.4 L530.91,1296.7 L532.27,1295.9 L533.64,1295.0 L535.00,1294.1 L536.36,1293.1 L537.73,1292.1 L539.09,1291.2 L540.45,1290.3 L541.82,1289.4 L543.18,1288.6 L544.55,1287.9 L545.91,1287.2 L547.27,1286.5 L548.64,1285.7 L550.00,1285.0 L551.36,1284.3 L552.73,1283.6 L554.09,1283.1 L555.45,1282.6 L556.82,1282.2 L558.18,1281.9 L559.55,1281.8 L560.91,1281.8 L562.27,1281.8 L563.64,1281.9 L565.00,1281.9 L566.36,1282.0 L567.73,1282.1 L569.09,1282.2 L570.45,1282.3 L571.82,1282.4 L573.18,1282.5 L574.55,1282.7 L575.91,1282.8 L577.27,1283.0 L578.64,1283.1 L580.00,1283.3 L581.36,1283.5 L582.73,1283.6 L584.09,1283.8 L585.45,1284.0 L586.82,1284.2 L588.18,1284.4 L589.55,1284.7 L590.91,1285.0 L592.27,1285.3 L593.64,1285.6 L595.00,1286.0 L596.36,1286.3 L597.73,1286.7 L599.09,1287.0 L600.45,1287.3 L601.82,1287.6 L603.18,1287.8 L604.55,1288.1 L605.91,1288.3 L607.27,1288.6 L608.64,1288.8 L610.00,1289.1 L611.36,1289.3 L612.73,1289.6 L614.09,1289.8 L615.45,1290.1 L616.82,1290.4 L618.18,1290.8 L619.55,1291.1 L620.91,1291.5 L622.27,1291.9 L623.64,1292.3 L625.00,1292.8 L626.36,1293.2 L627.73,1293.7 L629.09,1294.2 L630.45,1294.6 L631.82,1295.1 L633.18,1295.6 L634.55,1296.0 L635.91,1296.5 L637.27,1296.9 L638.64,1297.3 L640.00,1297.7 L641.36,1298.1 L642.73,1298.4 L644.09,1298.7 L645.45,1299.0 L646.82,1299.2 L648.18,1299.4 L649.55,1299.6 L650.91,1299.7 L652.27,1299.7 L653.64,1299.7 L655.00,1299.7 L656.36,1299.7 L657.73,1299.6 L659.09,1299.6 L660.45,1299.5 L661.82,1299.5 L663.18,1299.4 L664.55,1299.4 L665.91,1299.3 L667.27,1299.2 L668.64,1299.2 L670.00,1299.1 L671.36,1299.1 L672.73,1299.0 L674.09,1299.0 L675.45,1298.9 L676.82,1298.9 L678.18,1298.9 L679.55,1298.9 L680.91,1298.9 L682.27,1298.9 L683.64,1298.9 L685.00,1298.9 L686.36,1298.9 L687.73,1298.9 L689.09,1298.9 L690.45,1298.9 L691.82,1298.9 L693.18,1298.9 L694.55,1298.9 L695.91,1298.9 L697.27,1298.9 L698.64,1298.9 L700.00,1298.7 L701.36,1298.5 L702.73,1298.2 L704.09,1297.9 L705.45,1297.5 L706.82,1297.1 L708.18,1296.8 L709.55,1296.5 L710.91,1296.2 L712.27,1296.1 L713.64,1296.0 L715.00,1296.1 L716.36,1296.2 L717.73,1296.4 L719.09,1296.7 L720.45,1297.1 L721.82,1297.5 L723.18,1297.9 L724.55,1298.3 L725.91,1298.7 L727.27,1299.1 L728.64,1299.5 L730.00,1299.8 L731.36,1300.0 L732.73,1300.2 L734.09,1300.3 L735.45,1300.3 L736.82,1300.3 L738.18,1300.3 L739.55,1300.3 L740.91,1300.2 L742.27,1300.2 L743.64,1300.2 L745.00,1300.1 L746.36,1300.1 L747.73,1300.0 L749.09,1300.0 L750.45,1299.9 L751.82,1299.9 L753.18,1299.8 L754.55,1299.7 L755.91,1299.7 L757.27,1299.6 L758.64,1299.5 L760.00,1299.4 L761.36,1299.3 L762.73,1299.2 L764.09,1299.2 L765.45,1299.1 L766.82,1299.0 L768.18,1298.9 L769.55,1298.7 L770.91,1298.6 L772.27,1298.5 L773.64,1298.4 L775.00,1298.3 L776.36,1298.2 L777.73,1298.1 L779.09,1297.9 L780.45,1297.8 L781.82,1297.7 L783.18,1297.6 L784.55,1297.4 L785.91,1297.3 L787.27,1297.1 L788.64,1296.9 L790.00,1296.6 L791.36,1296.3 L792.73,1296.0 L794.09,1295.6 L795.45,1295.3 L796.82,1294.9 L798.18,1294.5 L799.55,1294.2 L800.91,1293.8 L802.27,1293.5 L803.64,1293.2 L805.00,1292.9 L806.36,1292.7 L807.73,1292.5 L809.09,1292.3 L810.45,1292.2 L811.82,1292.2 L813.18,1292.2 L814.55,1292.1 L815.91,1292.1 L817.27,1292.1 L818.64,1292.0 L820.00,1292.0 L821.36,1292.0 L822.73,1292.0 L824.09,1291.9 L825.45,1291.9 L826.82,1291.9 L828.18,1291.9 L829.55,1291.8 L830.91,1291.8 L832.27,1291.8 L833.64,1291.8 L835.00,1291.8 L836.36,1291.8 L837.73,1291.7 L839.09,1291.7 L840.45,1291.7 L841.82,1291.7 L843.18,1291.7 L844.55,1291.7 L845.91,1291.7 L847.27,1291.7 L848.64,1291.6 L850.00,1291.6 L851.36,1291.6 L852.73,1291.6 L854.09,1291.6 L855.45,1291.6 L856.82,1291.6 L858.18,1291.6 L859.55,1291.6 L860.91,1291.6 L862.27,1291.6 L863.64,1291.6 L865.00,1291.6 L866.36,1291.6 L867.73,1291.6 L869.09,1291.6 L870.45,1291.6 L871.82,1291.6 L873.18,1291.7 L874.55,1291.7 L875.91,1291.7 L877.27,1291.7 L878.64,1291.7 L880.00,1291.8 L881.36,1291.8 L882.73,1291.8 L884.09,1291.8 L885.45,1291.9 L886.82,1291.9 L888.18,1291.9 L889.55,1291.9 L890.91,1292.0 L892.27,1292.0 L893.64,1292.0 L895.00,1292.0 L896.36,1292.1 L897.73,1292.1 L899.09,1292.1 L900.45,1292.1 L901.82,1292.1 L903.18,1292.1 L904.55,1292.2 L905.91,1292.2 L907.27,1292.2 L908.64,1292.2 L910.00,1292.2 L911.36,1292.2 L912.73,1292.1 L914.09,1291.7 L915.45,1291.2 L916.82,1290.4 L918.18,1289.6 L919.55,1288.6 L920.91,1287.7 L922.27,1286.7 L923.64,1285.9 L925.00,1285.2 L926.36,1284.6 L927.73,1284.3 L929.09,1284.0 L930.45,1283.8 L931.82,1283.6 L933.18,1283.4 L934.55,1283.3 L935.91,1283.1 L937.27,1283.0 L938.64,1282.9 L940.00,1282.9 L941.36,1282.9 L942.73,1282.9 L944.09,1282.9 L945.45,1283.0 L946.82,1283.0 L948.18,1283.1 L949.55,1283.2 L950.91,1283.3 L952.27,1283.4 L953.64,1283.5 L955.00,1283.7 L956.36,1284.3 L957.73,1285.2 L959.09,1286.2 L960.45,1287.3 L961.82,1288.4 L963.18,1289.4 L964.55,1290.2 L965.91,1290.9 L967.27,1291.6 L968.64,1292.3 L970.00,1292.9 L971.36,1293.6 L972.73,1294.2 L974.09,1294.8 L975.45,1295.4 L976.82,1295.9 L978.18,1296.4 L979.55,1296.9 L980.91,1297.3 L982.27,1297.7 L983.64,1298.1 L985.00,1298.6 L986.36,1299.0 L987.73,1299.4 L989.09,1299.7 L990.45,1300.1 L991.82,1300.4 L993.18,1300.6 L994.55,1300.8 L995.91,1300.9 L997.27,1300.9 L998.64,1300.9 L1000.00,1300.8 L1001.36,1300.8 L1002.73,1300.7 L1004.09,1300.6 L1005.45,1300.4 L1006.82,1300.3 L1008.18,1300.2 L1009.55,1300.1 L1010.91,1299.9 L1012.27,1299.8 L1013.64,1299.7 L1015.00,1299.6 L1016.36,1299.6 L1017.73,1299.5 L1019.09,1299.5 L1020.45,1299.5 L1021.82,1299.5 L1023.18,1299.5 L1024.55,1299.6 L1025.91,1299.6 L1027.27,1299.7 L1028.64,1299.7 L1030.00,1299.8 L1031.36,1299.8 L1032.73,1299.9 L1034.09,1300.0 L1035.45,1300.1 L1036.82,1300.1 L1038.18,1300.2 L1039.55,1300.3 L1040.91,1300.4 L1042.27,1300.5 L1043.64,1300.6 L1045.00,1300.8 L1046.36,1300.9 L1047.73,1301.1 L1049.09,1301.2 L1050.45,1301.4 L1051.82,1301.6 L1053.18,1301.7 L1054.55,1301.9 L1055.91,1302.1 L1057.27,1302.3 L1058.64,1302.4 L1060.00,1302.6 L1061.36,1302.8 L1062.73,1302.9 L1064.09,1303.1 L1065.45,1303.2 L1066.82,1303.3 L1068.18,1303.5 L1069.55,1303.7 L1070.91,1303.8 L1072.27,1304.0 L1073.64,1304.1 L1075.00,1304.3 L1076.36,1304.4 L1077.73,1304.6 L1079.09,1304.7 L1080.45,1304.8 L1081.82,1305.0 L1083.18,1305.1 L1084.55,1305.2 L1085.91,1305.2 L1087.27,1305.3 L1088.64,1305.3 L1090.00,1305.3 L1091.36,1305.3 L1092.73,1305.2 L1094.09,1305.2 L1095.45,1305.1 L1096.82,1305.0 L1098.18,1304.9 L1099.55,1304.7 L1100.91,1304.6 L1102.27,1304.5 L1103.64,1304.3 L1105.00,1304.2 L1106.36,1304.1 L1107.73,1303.9 L1109.09,1303.8 L1110.45,1303.7 L1111.82,1303.6 L1113.18,1303.5 L1114.55,1303.4 L1115.91,1303.3 L1117.27,1303.2 L1118.64,1303.1 L1120.00,1303.0 L1121.36,1302.9 L1122.73,1302.8 L1124.09,1302.8 L1125.45,1302.7 L1126.82,1302.6 L1128.18,1302.6 L1129.55,1302.5 L1130.91,1302.5 L1132.27,1302.5 L1133.64,1302.5 L1135.00,1302.5 L1136.36,1302.6 L1137.73,1302.6 L1139.09,1302.7 L1140.45,1302.8 L1141.82,1302.9 L1143.18,1302.9 L1144.55,1303.0 L1145.91,1303.1 L1147.27,1303.2 L1148.64,1303.3 L1150.00,1303.4 L1151.36,1303.5 L1152.73,1303.6 L1154.09,1303.8 L1155.45,1303.9 L1156.82,1304.1 L1158.18,1304.2 L1159.55,1304.4 L1160.91,1304.6 L1162.27,1304.7 L1163.64,1304.8 L1165.00,1304.9 L1166.36,1305.0 L1167.73,1305.0 L1169.09,1304.9 L1170.45,1304.9 L1171.82,1304.7 L1173.18,1304.6 L1174.55,1304.4 L1175.91,1304.2 L1177.27,1303.9 L1178.64,1303.7 L1180.00,1303.5 L1181.36,1303.3 L1182.73,1303.1 L1184.09,1302.9 L1185.45,1302.7 L1186.82,1302.6 L1188.18,1302.5 L1189.55,1302.5 L1190.91,1302.5 L1192.27,1302.5 L1193.64,1302.6 L1195.00,1302.6 L1196.36,1302.7 L1197.73,1302.8 L1199.09,1302.8 L1200.45,1302.9 L1201.82,1303.0 L1203.18,1303.1 L1204.55,1303.2 L1205.91,1303.3 L1207.27,1303.4 L1208.64,1303.4 L1210.00,1303.5 L1211.36,1303.5 L1212.73,1303.6 L1214.09,1303.6 L1215.45,1303.6 L1216.82,1303.6 L1218.18,1303.6 L1219.55,1303.6 L1220.91,1303.6 L1222.27,1303.6 L1223.64,1303.6 L1225.00,1303.6 L1226.36,1303.6 L1227.73,1303.6 L1229.09,1303.6 L1230.45,1303.6 L1231.82,1303.6 L1233.18,1303.6 L1234.55,1303.6 L1235.91,1303.6 L1237.27,1303.7 L1238.64,1303.7 L1240.00,1303.8 L1241.36,1303.9 L1242.73,1304.1 L1244.09,1304.2 L1245.45,1304.4 L1246.82,1304.5 L1248.18,1304.7 L1249.55,1304.8 L1250.91,1305.0 L1252.27,1305.1 L1253.64,1305.2 L1255.00,1305.2 L1256.36,1305.3 L1257.73,1305.3 L1259.09,1305.3 L1260.45,1305.3 L1261.82,1305.2 L1263.18,1305.2 L1264.55,1305.1 L1265.91,1305.0 L1267.27,1304.9 L1268.64,1304.8 L1270.00,1304.7 L1271.36,1304.6 L1272.73,1304.5 L1274.09,1304.3 L1275.45,1304.2 L1276.82,1304.1 L1278.18,1304.0 L1279.55,1303.8 L1280.91,1303.7 L1282.27,1303.6 L1283.64,1303.5 L1285.00,1303.4 L1286.36,1303.3 L1287.73,1303.1 L1289.09,1303.0 L1290.45,1302.8 L1291.82,1302.7 L1293.18,1302.5 L1294.55,1302.4 L1295.91,1302.2 L1297.27,1302.1 L1298.64,1301.9 L1300.00,1301.8 L1301.36,1301.7 L1302.73,1301.5 L1304.09,1301.4 L1305.45,1301.3 L1306.82,1301.2 L1308.18,1301.0 L1309.55,1300.9 L1310.91,1300.8 L1312.27,1300.7 L1313.64,1300.6 L1315.00,1300.5 L1316.36,1300.3 L1317.73,1300.2 L1319.09,1300.1 L1320.45,1300.0 L1321.82,1299.9 L1323.18,1299.8 L1324.55,1299.7 L1325.91,1299.7 L1327.27,1299.6 L1328.64,1299.6 L1330.00,1299.5 L1331.36,1299.5 L1332.73,1299.5 L1334.09,1299.6 L1335.45,1299.9 L1336.82,1300.2 L1338.18,1300.7 L1339.55,1301.2 L1340.91,1301.8 L1342.27,1302.3 L1343.64,1302.9 L1345.00,1303.4 L1346.36,1303.8 L1347.73,1304.2 L1349.09,1304.4 L1350.45,1304.4 L1351.82,1304.3 L1353.18,1304.2 L1354.55,1304.0 L1355.91,1303.8 L1357.27,1303.6 L1358.64,1303.3 L1360.00,1303.0 L1361.36,1302.7 L1362.73,1302.3 L1364.09,1302.0 L1365.45,1301.7 L1366.82,1301.5 L1368.18,1301.3 L1369.55,1301.1 L1370.91,1301.0 L1372.27,1300.9 L1373.64,1300.9 L1375.00,1300.9 L1376.36,1300.9 L1377.73,1300.9 L1379.09,1300.9 L1380.45,1300.9 L1381.82,1300.9 L1383.18,1300.9 L1384.55,1300.9 L1385.91,1300.9 L1387.27,1300.9 L1388.64,1300.9 L1390.00,1301.0 L1391.36,1301.1 L1392.73,1301.2 L1394.09,1301.4 L1395.45,1301.6 L1396.82,1301.8 L1398.18,1301.9 L1399.55,1302.1 L1400.91,1302.3 L1402.27,1302.4 L1403.64,1302.5 L1405.00,1302.5 L1406.36,1302.5 L1407.73,1302.3 L1409.09,1302.2 L1410.45,1301.9 L1411.82,1301.6 L1413.18,1301.3 L1414.55,1301.0 L1415.91,1300.7 L1417.27,1300.4 L1418.64,1300.2 L1420.00,1300.0 L1421.36,1299.8 L1422.73,1299.8 L1424.09,1299.8 L1425.45,1299.8 L1426.82,1299.9 L1428.18,1299.9 L1429.55,1300.0 L1430.91,1300.0 L1432.27,1300.1 L1433.64,1300.1 L1435.00,1300.2 L1436.36,1300.2 L1437.73,1300.3 L1439.09,1300.3 L1440.45,1300.3 L1441.82,1300.2 L1443.18,1299.8 L1444.55,1299.2 L1445.91,1298.5 L1447.27,1297.7 L1448.64,1296.8 L1450.00,1295.8 L1451.36,1294.7 L1452.73,1293.6 L1454.09,1292.5 L1455.45,1291.4 L1456.82,1290.4 L1458.18,1289.1 L1459.55,1287.6 L1460.91,1286.1 L1462.27,1284.5 L1463.64,1283.1 L1465.00,1281.9 L1466.36,1280.9 L1467.73,1280.1 L1469.09,1279.3 L1470.45,1278.5 L1471.82,1277.9 L1473.18,1277.5 L1474.55,1277.4 L1475.91,1277.6 L1477.27,1278.0 L1478.64,1278.5 L1480.00,1279.2 L1481.36,1279.9 L1482.73,1280.7 L1484.09,1281.7 L1485.45,1283.0 L1486.82,1284.4 L1488.18,1286.1 L1489.55,1287.7 L1490.91,1289.4 L1492.27,1291.0 L1493.64,1292.4 L1495.00,1293.7 L1496.36,1294.7 L1497.73,1295.6 L1499.09,1296.6 L1500.45,1297.5 L1501.82,1298.4 L1503.18,1299.2 L1504.55,1299.9 L1505.91,1300.5 L1507.27,1301.0 L1508.64,1301.3 L1510.00,1301.5 L1511.36,1301.7 L1512.73,1301.9 L1514.09,1302.0 L1515.45,1302.2 L1516.82,1302.3 L1518.18,1302.4 L1519.55,1302.5 L1520.91,1302.6 L1522.27,1302.7 L1523.64,1302.7 L1525.00,1302.7 L1526.36,1302.2 L1527.73,1301.2 L1529.09,1299.9 L1530.45,1298.4 L1531.82,1296.6 L1533.18,1294.9 L1534.55,1293.2 L1535.91,1291.6 L1537.27,1289.4 L1538.64,1287.1 L1540.00,1284.9 L1541.36,1283.2 L1542.73,1282.4 L1544.09,1282.8 L1545.45,1284.1 L1546.82,1286.1 L1548.18,1288.4 L1549.55,1290.7 L1550.91,1292.6 L1552.27,1294.3 L1553.64,1296.2 L1555.00,1298.0 L1556.36,1299.6 L1557.73,1300.8 L1559.09,1301.3 L1560.45,1301.6 L1561.82,1301.9 L1563.18,1302.1 L1564.55,1302.3 L1565.91,1302.5 L1567.27,1302.7 L1568.64,1302.9 L1570.00,1303.0 L1571.36,1303.1 L1572.73,1303.2 L1574.09,1303.2 L1575.45,1303.3 L1576.82,1303.3 L1578.18,1303.3 L1579.55,1303.3 L1580.91,1303.3 L1582.27,1303.3 L1583.64,1303.3 L1585.00,1303.3 L1586.36,1303.3 L1587.73,1303.3 L1589.09,1303.3 L1590.45,1303.3 L1591.82,1303.3 L1593.18,1303.3 L1594.55,1303.3 L1595.91,1303.3 L1597.27,1303.3 L1598.64,1303.3 L1600.00,1303.3 L1601.36,1303.3 L1602.73,1303.3 L1604.09,1303.3 L1605.45,1303.3 L1606.82,1303.3 L1608.18,1303.3 L1609.55,1303.3 L1610.91,1303.3 L1612.27,1303.3 L1613.64,1303.3 L1615.00,1303.3 L1616.36,1303.3 L1617.73,1303.3 L1619.09,1303.3 L1620.45,1303.3 L1621.82,1303.3 L1623.18,1303.3 L1624.55,1303.3 L1625.91,1303.3 L1627.27,1303.3 L1628.64,1303.3 L1630.00,1303.3 L1631.36,1303.3 L1632.73,1303.3 L1634.09,1303.3 L1635.45,1303.3 L1636.82,1303.3 L1638.18,1303.3 L1639.55,1303.3 L1640.91,1303.3 L1642.27,1303.3 L1643.64,1303.3 L1645.00,1303.3 L1646.36,1303.3 L1647.73,1303.3 L1649.09,1303.3 L1650.45,1303.3 L1651.82,1303.3 L1653.18,1303.3 L1654.55,1303.3 L1655.91,1303.3"/>
</g>
<rect x="189.5" y="52.5" width="1632" height="1374" fill="none" stroke="#000" stroke-width="11"/>
<g fill="#000">
<rect x="252.0" y="1409" width="11" height="13"/><rect x="320.0" y="1409" width="11" height="13"/><rect x="388.0" y="1409" width="11" height="13"/><rect x="456.0" y="1397" width="11" height="25"/><rect x="524.0" y="1409" width="11" height="13"/><rect x="592.0" y="1409" width="11" height="13"/><rect x="660.0" y="1409" width="11" height="13"/><rect x="728.0" y="1397" width="11" height="25"/><rect x="796.0" y="1409" width="11" height="13"/><rect x="864.0" y="1409" width="11" height="13"/><rect x="932.0" y="1409" width="11" height="13"/><rect x="1000.0" y="1397" width="11" height="25"/><rect x="1068.0" y="1409" width="11" height="13"/><rect x="1136.0" y="1409" width="11" height="13"/><rect x="1204.0" y="1409" width="11" height="13"/><rect x="1272.0" y="1397" width="11" height="25"/><rect x="1340.0" y="1409" width="11" height="13"/><rect x="1408.0" y="1409" width="11" height="13"/><rect x="1476.0" y="1409" width="11" height="13"/><rect x="1544.0" y="1397" width="11" height="25"/><rect x="1612.0" y="1409" width="11" height="13"/><rect x="1680.0" y="1409" width="11" height="13"/><rect x="1748.0" y="1409" width="11" height="13"/>
</g>
<g font-size="72">
<text x="105.3" y="1537.4" letter-spacing="-1.5">1800</text><text x="377.3" y="1537.4" letter-spacing="-1.5">1600</text><text x="649.3" y="1537.4" letter-spacing="-1.5">1400</text><text x="921.3" y="1537.4" letter-spacing="-1.5">1200</text><text x="1193.3" y="1537.4" letter-spacing="-1.5">1000</text><text x="1483.2" y="1537.4" letter-spacing="-1.5">800</text><text x="1755.2" y="1537.4" letter-spacing="-1.5">600</text>
</g>
<text x="248.5" y="577.5" font-size="47" class="b" text-anchor="start" letter-spacing="0">(A)</text>
<text x="248.5" y="717.9" font-size="47" class="b" text-anchor="start" letter-spacing="0">(B)</text>
<text x="248" y="830" font-size="47" class="b" text-anchor="start" letter-spacing="0">(C)</text>
<text x="244" y="943.4" font-size="47" class="b" text-anchor="start" letter-spacing="0">(D)</text>
<text x="244" y="1044.4" font-size="47" class="b" text-anchor="start" letter-spacing="0">(E)</text>
<text x="248" y="1154.8" font-size="47" class="b" text-anchor="start" letter-spacing="0">(F)</text>
<text x="244" y="1282.5" font-size="47" class="b" text-anchor="start" letter-spacing="0">(G)</text>
<text x="463.5" y="546.2" font-size="48.5" class="b" text-anchor="start" letter-spacing="-0.6">1672</text>
<text x="514" y="693.9" font-size="48.5" class="b" text-anchor="start" letter-spacing="-0.6">1637</text>
<text x="538" y="800.6" font-size="48.5" class="b" text-anchor="start" letter-spacing="-0.6">1636</text>
<text x="538" y="895.6" font-size="48.5" class="b" text-anchor="start" letter-spacing="-0.6">1635</text>
<text x="534" y="1012.1" font-size="48.5" class="b" text-anchor="start" letter-spacing="-0.6">1634</text>
<text x="542" y="1134.8" font-size="48.5" class="b" text-anchor="start" letter-spacing="-0.6">1634</text>
<text x="542" y="1251.2" font-size="48.5" class="b" text-anchor="start" letter-spacing="-0.6">1619</text>
<text x="620.5" y="475" font-size="57" class="b" text-anchor="start" letter-spacing="-1.2">1258</text>
<text x="965.3" y="275" font-size="57" class="b" text-anchor="start" letter-spacing="-1.2">1012</text>
<text x="1295" y="139.5" font-size="57" class="b" text-anchor="start" letter-spacing="-1.2">788</text>
<line x1="452" y1="521.2" x2="397.5" y2="553.2" stroke="#000" stroke-width="1.1"/><polygon points="371.6,569.5 401.7,532.4 397.5,553.2 417.8,561.2" fill="#000"/>
<line x1="503.9" y1="653.2" x2="431" y2="677.6" stroke="#000" stroke-width="1.1"/><polygon points="402.8,689.7 439.9,659 431,677.6 450,689.3" fill="#000"/>
<line x1="523.7" y1="772.3" x2="448.7" y2="796.7" stroke="#000" stroke-width="1.1"/><polygon points="421.7,808.9 458.9,779.2 448.7,796.7 469.1,808.3" fill="#000"/>
<line x1="520" y1="875.7" x2="444.4" y2="900.7" stroke="#000" stroke-width="1.1"/><polygon points="418.8,912.3 454.5,882.4 444.4,900.7 464.7,912" fill="#000"/>
<line x1="520" y1="1002.8" x2="443.8" y2="1027.8" stroke="#000" stroke-width="1.1"/><polygon points="418.8,1039.5 454.5,1009.8 443.8,1027.8 464.7,1039.5" fill="#000"/>
<line x1="515.6" y1="1123.1" x2="440" y2="1148.4" stroke="#000" stroke-width="1.1"/><polygon points="414.8,1159.4 450.8,1129.5 440,1148.4 461,1159.2" fill="#000"/>
<line x1="519.3" y1="1227.4" x2="476.3" y2="1247.8" stroke="#000" stroke-width="1.1"/><polygon points="450.2,1263.2 483,1228.3 476.3,1247.8 496.7,1255.9" fill="#000"/>
<line x1="755.2" y1="458.3" x2="854.3" y2="458.3" stroke="#000" stroke-width="1.3"/><polygon points="854.3,441.90000000000003 899,458.3 854.3,474.7" fill="#000"/>
<line x1="1099.4" y1="259" x2="1199" y2="259" stroke="#000" stroke-width="1.3"/><polygon points="1199,242.6 1244,259 1199,275.4" fill="#000"/>
<line x1="1403.9" y1="123.4" x2="1504.1" y2="123.4" stroke="#000" stroke-width="1.3"/><polygon points="1504.1,107.0 1549.2,123.4 1504.1,139.8" fill="#000"/>
<text x="689.5" y="1684.8" font-size="71.2">Wavenumber (cm</text><text x="1253.4" y="1648" font-size="47.8" letter-spacing="2">-1</text><text x="1298.4" y="1684.8" font-size="71.2">)</text>
<text transform="translate(118.5,753.2) rotate(-90)" font-size="72" text-anchor="middle">Absorbance (A.U.)</text>
</svg>
</body></html>
